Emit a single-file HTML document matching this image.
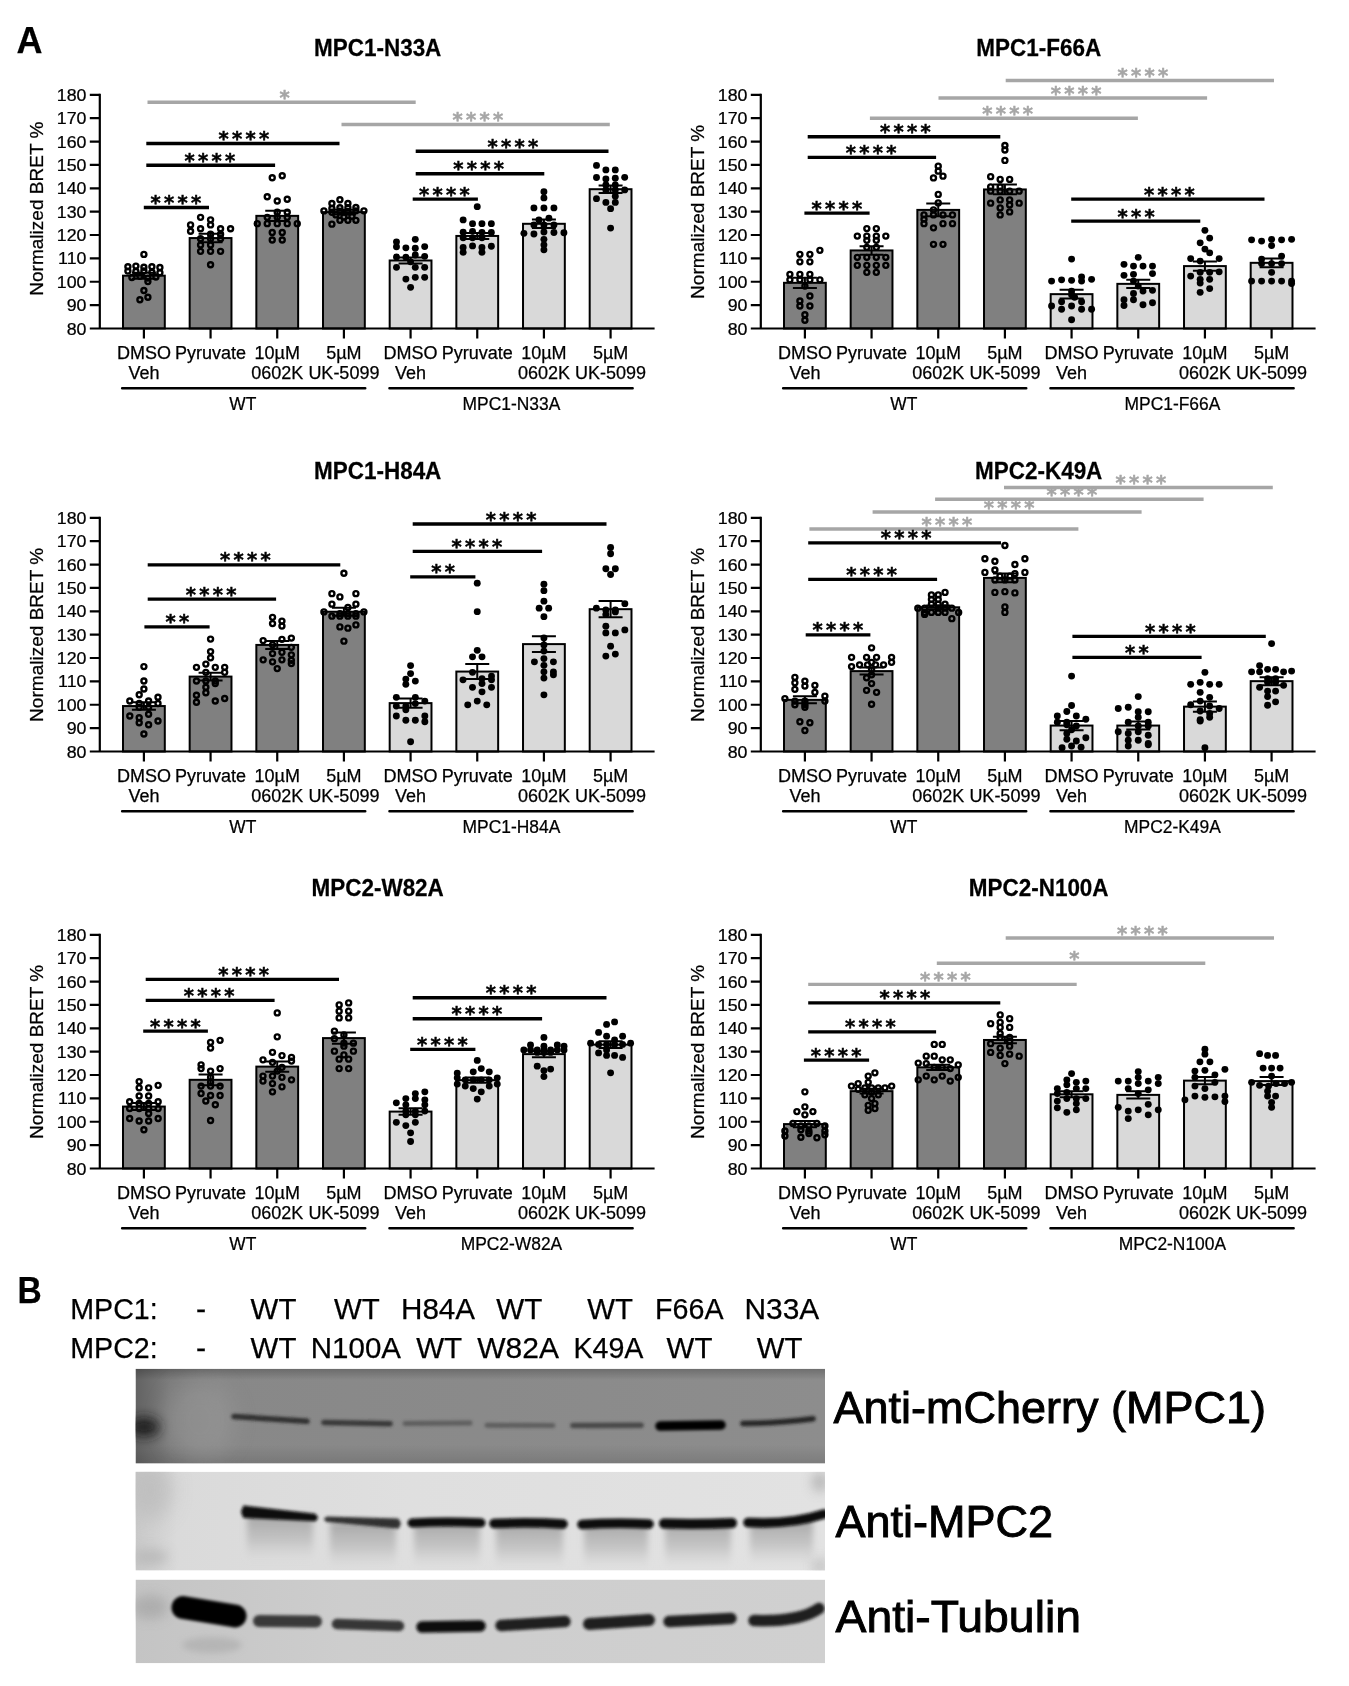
<!DOCTYPE html>
<html lang="en"><head><meta charset="utf-8"><title>Figure</title>
<style>
html,body{margin:0;padding:0;background:#fff}
svg{display:block;filter:grayscale(1)}
text{font-family:"Liberation Sans", sans-serif;fill:#000;stroke:#000;stroke-width:0.25px}
text.st{font-family:"DejaVu Sans",sans-serif;font-weight:bold;font-size:19.5px;text-anchor:middle;stroke:#000;stroke-width:0.5px}
text.st.g{stroke:#a6a6a6;fill:#a6a6a6}
</style></head><body>
<svg width="1349" height="1686" viewBox="0 0 1349 1686">
<rect width="1349" height="1686" fill="#fff"/>
<g transform="translate(0,0)">
<text transform="translate(377.7,55.55) scale(0.958,1)" font-size="23.45" font-weight="bold" text-anchor="middle">MPC1-N33A</text>
<rect x="123" y="275.68" width="41.8" height="52.82" fill="#808080" stroke="#000" stroke-width="2"/>
<rect x="189.67" y="238.06" width="41.8" height="90.44" fill="#808080" stroke="#000" stroke-width="2"/>
<rect x="256.34" y="215.86" width="41.8" height="112.64" fill="#808080" stroke="#000" stroke-width="2"/>
<rect x="323.01" y="212.12" width="41.8" height="116.38" fill="#808080" stroke="#000" stroke-width="2"/>
<rect x="389.68" y="260.49" width="41.8" height="68.01" fill="#d9d9d9" stroke="#000" stroke-width="2"/>
<rect x="456.35" y="235.95" width="41.8" height="92.55" fill="#d9d9d9" stroke="#000" stroke-width="2"/>
<rect x="523.02" y="223.8" width="41.8" height="104.7" fill="#d9d9d9" stroke="#000" stroke-width="2"/>
<rect x="589.69" y="189.21" width="41.8" height="139.29" fill="#d9d9d9" stroke="#000" stroke-width="2"/>
<path d="M99.8 93.8V328.5M89.8 328.5H654.6" stroke="#000" stroke-width="2.2" fill="none"/>
<path d="M89.8 305.13H99.8M89.8 281.76H99.8M89.8 258.39H99.8M89.8 235.02H99.8M89.8 211.65H99.8M89.8 188.28H99.8M89.8 164.91H99.8M89.8 141.54H99.8M89.8 118.17H99.8M89.8 94.8H99.8M143.9 328.5V338.5M210.57 328.5V338.5M277.24 328.5V338.5M343.91 328.5V338.5M410.58 328.5V338.5M477.25 328.5V338.5M543.92 328.5V338.5M610.59 328.5V338.5" stroke="#000" stroke-width="2.2" fill="none"/>
<text transform="translate(86.5,334.6) scale(1.035,1)" font-size="17.2" text-anchor="end">80</text>
<text transform="translate(86.5,311.23) scale(1.035,1)" font-size="17.2" text-anchor="end">90</text>
<text transform="translate(86.5,287.86) scale(1.035,1)" font-size="17.2" text-anchor="end">100</text>
<text transform="translate(86.5,264.49) scale(1.035,1)" font-size="17.2" text-anchor="end">110</text>
<text transform="translate(86.5,241.12) scale(1.035,1)" font-size="17.2" text-anchor="end">120</text>
<text transform="translate(86.5,217.75) scale(1.035,1)" font-size="17.2" text-anchor="end">130</text>
<text transform="translate(86.5,194.38) scale(1.035,1)" font-size="17.2" text-anchor="end">140</text>
<text transform="translate(86.5,171.01) scale(1.035,1)" font-size="17.2" text-anchor="end">150</text>
<text transform="translate(86.5,147.64) scale(1.035,1)" font-size="17.2" text-anchor="end">160</text>
<text transform="translate(86.5,124.27) scale(1.035,1)" font-size="17.2" text-anchor="end">170</text>
<text transform="translate(86.5,100.9) scale(1.035,1)" font-size="17.2" text-anchor="end">180</text>
<text transform="translate(43.1,208.7) rotate(-90)" font-size="19.05" text-anchor="middle">Normalized BRET %</text>
<text x="143.9" y="358.5" font-size="18.0" text-anchor="middle">DMSO</text>
<text x="143.9" y="378.6" font-size="18.0" text-anchor="middle">Veh</text>
<text x="210.57" y="358.5" font-size="18.0" text-anchor="middle">Pyruvate</text>
<text x="277.24" y="358.5" font-size="18.0" text-anchor="middle">10µM</text>
<text x="277.24" y="378.6" font-size="18.0" text-anchor="middle">0602K</text>
<text x="343.91" y="358.5" font-size="18.0" text-anchor="middle">5µM</text>
<text x="343.91" y="378.6" font-size="18.0" text-anchor="middle">UK-5099</text>
<text x="410.58" y="358.5" font-size="18.0" text-anchor="middle">DMSO</text>
<text x="410.58" y="378.6" font-size="18.0" text-anchor="middle">Veh</text>
<text x="477.25" y="358.5" font-size="18.0" text-anchor="middle">Pyruvate</text>
<text x="543.92" y="358.5" font-size="18.0" text-anchor="middle">10µM</text>
<text x="543.92" y="378.6" font-size="18.0" text-anchor="middle">0602K</text>
<text x="610.59" y="358.5" font-size="18.0" text-anchor="middle">5µM</text>
<text x="610.59" y="378.6" font-size="18.0" text-anchor="middle">UK-5099</text>
<path d="M122.2 388.3H365.2M389.5 388.3H632.6" stroke="#000" stroke-width="2.6" stroke-linecap="round" fill="none"/>
<text transform="translate(242.8,409.5) scale(0.965,1)" font-size="18.05" text-anchor="middle">WT</text>
<text transform="translate(511.4,409.5) scale(0.965,1)" font-size="18.05" text-anchor="middle">MPC1-N33A</text>
<path d="M143.9 272.65V278.72M131.9 272.65H155.9M131.9 278.72H155.9" stroke="#000" stroke-width="2" fill="none"/>
<path d="M210.57 233.85V242.26M198.57 233.85H222.57M198.57 242.26H222.57" stroke="#000" stroke-width="2" fill="none"/>
<path d="M277.24 210.72V221M265.24 210.72H289.24M265.24 221H289.24" stroke="#000" stroke-width="2" fill="none"/>
<path d="M343.91 209.78V214.45M331.91 209.78H355.91M331.91 214.45H355.91" stroke="#000" stroke-width="2" fill="none"/>
<path d="M410.58 257.46V263.53M398.58 257.46H422.58M398.58 263.53H422.58" stroke="#000" stroke-width="2" fill="none"/>
<path d="M477.25 232.92V238.99M465.25 232.92H489.25M465.25 238.99H489.25" stroke="#000" stroke-width="2" fill="none"/>
<path d="M543.92 219.6V228.01M531.92 219.6H555.92M531.92 228.01H555.92" stroke="#000" stroke-width="2" fill="none"/>
<path d="M610.59 185.48V192.95M598.59 185.48H622.59M598.59 192.95H622.59" stroke="#000" stroke-width="2" fill="none"/>
<g fill="none" stroke="#000" stroke-width="2.4"><circle cx="143.9" cy="254.4" r="2.5"/><circle cx="127.9" cy="266.79" r="2.5"/><circle cx="135.9" cy="266.09" r="2.5"/><circle cx="143.9" cy="267.24" r="2.5"/><circle cx="151.9" cy="266.82" r="2.5"/><circle cx="159.9" cy="267.52" r="2.5"/><circle cx="127.9" cy="271.11" r="2.5"/><circle cx="135.9" cy="271.5" r="2.5"/><circle cx="143.9" cy="271.06" r="2.5"/><circle cx="151.9" cy="272.31" r="2.5"/><circle cx="159.9" cy="272.82" r="2.5"/><circle cx="131.9" cy="277.5" r="2.5"/><circle cx="139.9" cy="276.37" r="2.5"/><circle cx="147.9" cy="278.1" r="2.5"/><circle cx="155.9" cy="277.05" r="2.5"/><circle cx="147.9" cy="281.61" r="2.5"/><circle cx="143.9" cy="290.43" r="2.5"/><circle cx="147.9" cy="297.24" r="2.5"/><circle cx="139.9" cy="299.76" r="2.5"/></g>
<g fill="none" stroke="#000" stroke-width="2.4"><circle cx="200.57" cy="217.35" r="2.5"/><circle cx="210.57" cy="219.87" r="2.5"/><circle cx="190.57" cy="224.91" r="2.5"/><circle cx="210.57" cy="224.91" r="2.5"/><circle cx="200.57" cy="228.69" r="2.5"/><circle cx="220.57" cy="228.69" r="2.5"/><circle cx="230.57" cy="228.69" r="2.5"/><circle cx="190.57" cy="231.21" r="2.5"/><circle cx="210.57" cy="234.23" r="2.5"/><circle cx="220.57" cy="234.23" r="2.5"/><circle cx="200.57" cy="238.77" r="2.5"/><circle cx="210.57" cy="238.77" r="2.5"/><circle cx="220.57" cy="238.77" r="2.5"/><circle cx="200.57" cy="245.07" r="2.5"/><circle cx="210.57" cy="245.07" r="2.5"/><circle cx="200.57" cy="251.37" r="2.5"/><circle cx="210.57" cy="251.37" r="2.5"/><circle cx="220.57" cy="251.37" r="2.5"/><circle cx="210.57" cy="264.73" r="2.5"/></g>
<g fill="none" stroke="#000" stroke-width="2.4"><circle cx="282.24" cy="175.77" r="2.5"/><circle cx="272.24" cy="177.78" r="2.5"/><circle cx="267.24" cy="196.68" r="2.5"/><circle cx="287.24" cy="199.2" r="2.5"/><circle cx="277.24" cy="200.97" r="2.5"/><circle cx="277.24" cy="212.31" r="2.5"/><circle cx="287.24" cy="212.31" r="2.5"/><circle cx="267.24" cy="217.35" r="2.5"/><circle cx="277.24" cy="217.35" r="2.5"/><circle cx="287.24" cy="217.35" r="2.5"/><circle cx="257.24" cy="223.65" r="2.5"/><circle cx="267.24" cy="223.65" r="2.5"/><circle cx="277.24" cy="223.65" r="2.5"/><circle cx="287.24" cy="223.65" r="2.5"/><circle cx="297.24" cy="223.65" r="2.5"/><circle cx="272.24" cy="232.47" r="2.5"/><circle cx="282.24" cy="232.47" r="2.5"/><circle cx="272.24" cy="240.03" r="2.5"/><circle cx="282.24" cy="240.03" r="2.5"/></g>
<g fill="none" stroke="#000" stroke-width="2.4"><circle cx="339.91" cy="199.71" r="2.5"/><circle cx="331.91" cy="203.49" r="2.5"/><circle cx="347.91" cy="203.49" r="2.5"/><circle cx="331.91" cy="208.57" r="2.5"/><circle cx="339.91" cy="207.74" r="2.5"/><circle cx="347.91" cy="207.76" r="2.5"/><circle cx="355.91" cy="207.53" r="2.5"/><circle cx="323.91" cy="210.9" r="2.5"/><circle cx="331.91" cy="212.19" r="2.5"/><circle cx="339.91" cy="211.32" r="2.5"/><circle cx="347.91" cy="211.55" r="2.5"/><circle cx="355.91" cy="210.87" r="2.5"/><circle cx="363.91" cy="210.86" r="2.5"/><circle cx="335.91" cy="214.9" r="2.5"/><circle cx="343.91" cy="216.97" r="2.5"/><circle cx="351.91" cy="216.27" r="2.5"/><circle cx="339.91" cy="220.37" r="2.5"/><circle cx="347.91" cy="220.37" r="2.5"/><circle cx="355.91" cy="220.37" r="2.5"/><circle cx="331.91" cy="224.15" r="2.5"/></g>
<g fill="#000"><circle cx="415.28" cy="239.37" r="3.45"/><circle cx="396.48" cy="241.86" r="3.45"/><circle cx="396.48" cy="246.77" r="3.45"/><circle cx="405.88" cy="247.83" r="3.45"/><circle cx="415.28" cy="248.2" r="3.45"/><circle cx="424.68" cy="246.61" r="3.45"/><circle cx="396.48" cy="256.97" r="3.45"/><circle cx="405.88" cy="257.16" r="3.45"/><circle cx="415.28" cy="254.96" r="3.45"/><circle cx="424.68" cy="256.35" r="3.45"/><circle cx="410.58" cy="261.85" r="3.45"/><circle cx="396.48" cy="267.34" r="3.45"/><circle cx="415.28" cy="267.34" r="3.45"/><circle cx="424.68" cy="267.34" r="3.45"/><circle cx="415.28" cy="277.34" r="3.45"/><circle cx="424.68" cy="277.34" r="3.45"/><circle cx="405.88" cy="279.09" r="3.45"/><circle cx="410.58" cy="287.33" r="3.45"/></g>
<g fill="#000"><circle cx="477.25" cy="206.64" r="3.45"/><circle cx="463.15" cy="219.88" r="3.45"/><circle cx="472.55" cy="223.63" r="3.45"/><circle cx="481.95" cy="223.63" r="3.45"/><circle cx="491.35" cy="223.63" r="3.45"/><circle cx="463.15" cy="232.27" r="3.45"/><circle cx="472.55" cy="231.36" r="3.45"/><circle cx="481.95" cy="232.35" r="3.45"/><circle cx="491.35" cy="232.45" r="3.45"/><circle cx="463.15" cy="237.87" r="3.45"/><circle cx="472.55" cy="237.87" r="3.45"/><circle cx="481.95" cy="237.87" r="3.45"/><circle cx="463.15" cy="247.56" r="3.45"/><circle cx="472.55" cy="245.89" r="3.45"/><circle cx="481.95" cy="247.52" r="3.45"/><circle cx="491.35" cy="246.19" r="3.45"/><circle cx="463.15" cy="252.36" r="3.45"/><circle cx="481.95" cy="252.36" r="3.45"/></g>
<g fill="#000"><circle cx="543.92" cy="191.65" r="3.45"/><circle cx="543.92" cy="197.9" r="3.45"/><circle cx="533.92" cy="207.89" r="3.45"/><circle cx="543.92" cy="207.89" r="3.45"/><circle cx="553.92" cy="207.89" r="3.45"/><circle cx="548.92" cy="218.13" r="3.45"/><circle cx="538.92" cy="219.88" r="3.45"/><circle cx="533.92" cy="224.88" r="3.45"/><circle cx="543.92" cy="224.88" r="3.45"/><circle cx="553.92" cy="224.88" r="3.45"/><circle cx="523.92" cy="233.37" r="3.45"/><circle cx="533.92" cy="233.99" r="3.45"/><circle cx="543.92" cy="232.03" r="3.45"/><circle cx="553.92" cy="232.46" r="3.45"/><circle cx="563.92" cy="232.73" r="3.45"/><circle cx="543.92" cy="239.37" r="3.45"/><circle cx="543.92" cy="244.86" r="3.45"/><circle cx="543.92" cy="249.86" r="3.45"/></g>
<g fill="#000"><circle cx="596.49" cy="165.42" r="3.45"/><circle cx="605.89" cy="169.92" r="3.45"/><circle cx="615.29" cy="169.92" r="3.45"/><circle cx="596.49" cy="177.49" r="3.45"/><circle cx="605.89" cy="178.89" r="3.45"/><circle cx="615.29" cy="178.29" r="3.45"/><circle cx="624.69" cy="177.34" r="3.45"/><circle cx="605.89" cy="184.91" r="3.45"/><circle cx="615.29" cy="184.91" r="3.45"/><circle cx="605.89" cy="189.9" r="3.45"/><circle cx="615.29" cy="189.9" r="3.45"/><circle cx="624.69" cy="189.9" r="3.45"/><circle cx="596.49" cy="198.65" r="3.45"/><circle cx="615.29" cy="196.15" r="3.45"/><circle cx="605.89" cy="202.39" r="3.45"/><circle cx="615.29" cy="202.39" r="3.45"/><circle cx="610.59" cy="208.64" r="3.45"/><circle cx="610.59" cy="228.12" r="3.45"/></g>
<path d="M147.5 102.2H415.7" stroke="#a6a6a6" stroke-width="3.4" fill="none"/>
<text x="284.6" y="103.7" class="st g" fill="#a6a6a6">*</text>
<path d="M146.3 143.5H339.5" stroke="#000" stroke-width="3.4" fill="none"/>
<text x="223.55 237.05 250.55 264.05" y="145" class="st">****</text>
<path d="M146.3 165.2H275.1" stroke="#000" stroke-width="3.4" fill="none"/>
<text x="189.55 203.05 216.55 230.05" y="166.7" class="st">****</text>
<path d="M143.8 207.5H209" stroke="#000" stroke-width="3.4" fill="none"/>
<text x="155.55 169.05 182.55 196.05" y="209" class="st">****</text>
<path d="M341.5 124.5H609.8" stroke="#a6a6a6" stroke-width="3.4" fill="none"/>
<text x="457.65 471.15 484.65 498.15" y="126" class="st g" fill="#a6a6a6">****</text>
<path d="M415.7 151.2H608.5" stroke="#000" stroke-width="3.4" fill="none"/>
<text x="492.65 506.15 519.65 533.15" y="152.7" class="st">****</text>
<path d="M415.7 173.7H544.3" stroke="#000" stroke-width="3.4" fill="none"/>
<text x="458.35 471.85 485.35 498.85" y="175.2" class="st">****</text>
<path d="M412.7 199.1H477.9" stroke="#000" stroke-width="3.4" fill="none"/>
<text x="424.15 437.65 451.15 464.65" y="200.6" class="st">****</text>
</g>
<g transform="translate(661,0)">
<text transform="translate(377.7,55.55) scale(0.958,1)" font-size="23.45" font-weight="bold" text-anchor="middle">MPC1-F66A</text>
<rect x="123" y="282.81" width="41.8" height="45.69" fill="#808080" stroke="#000" stroke-width="2"/>
<rect x="189.67" y="250.44" width="41.8" height="78.06" fill="#808080" stroke="#000" stroke-width="2"/>
<rect x="256.34" y="209.9" width="41.8" height="118.6" fill="#808080" stroke="#000" stroke-width="2"/>
<rect x="323.01" y="189.45" width="41.8" height="139.05" fill="#808080" stroke="#000" stroke-width="2"/>
<rect x="389.68" y="294.15" width="41.8" height="34.35" fill="#d9d9d9" stroke="#000" stroke-width="2"/>
<rect x="456.35" y="283.86" width="41.8" height="44.64" fill="#d9d9d9" stroke="#000" stroke-width="2"/>
<rect x="523.02" y="266.1" width="41.8" height="62.4" fill="#d9d9d9" stroke="#000" stroke-width="2"/>
<rect x="589.69" y="262.83" width="41.8" height="65.67" fill="#d9d9d9" stroke="#000" stroke-width="2"/>
<path d="M99.8 93.8V328.5M89.8 328.5H654.6" stroke="#000" stroke-width="2.2" fill="none"/>
<path d="M89.8 305.13H99.8M89.8 281.76H99.8M89.8 258.39H99.8M89.8 235.02H99.8M89.8 211.65H99.8M89.8 188.28H99.8M89.8 164.91H99.8M89.8 141.54H99.8M89.8 118.17H99.8M89.8 94.8H99.8M143.9 328.5V338.5M210.57 328.5V338.5M277.24 328.5V338.5M343.91 328.5V338.5M410.58 328.5V338.5M477.25 328.5V338.5M543.92 328.5V338.5M610.59 328.5V338.5" stroke="#000" stroke-width="2.2" fill="none"/>
<text transform="translate(86.5,334.6) scale(1.035,1)" font-size="17.2" text-anchor="end">80</text>
<text transform="translate(86.5,311.23) scale(1.035,1)" font-size="17.2" text-anchor="end">90</text>
<text transform="translate(86.5,287.86) scale(1.035,1)" font-size="17.2" text-anchor="end">100</text>
<text transform="translate(86.5,264.49) scale(1.035,1)" font-size="17.2" text-anchor="end">110</text>
<text transform="translate(86.5,241.12) scale(1.035,1)" font-size="17.2" text-anchor="end">120</text>
<text transform="translate(86.5,217.75) scale(1.035,1)" font-size="17.2" text-anchor="end">130</text>
<text transform="translate(86.5,194.38) scale(1.035,1)" font-size="17.2" text-anchor="end">140</text>
<text transform="translate(86.5,171.01) scale(1.035,1)" font-size="17.2" text-anchor="end">150</text>
<text transform="translate(86.5,147.64) scale(1.035,1)" font-size="17.2" text-anchor="end">160</text>
<text transform="translate(86.5,124.27) scale(1.035,1)" font-size="17.2" text-anchor="end">170</text>
<text transform="translate(86.5,100.9) scale(1.035,1)" font-size="17.2" text-anchor="end">180</text>
<text transform="translate(43.1,211.8) rotate(-90)" font-size="19.05" text-anchor="middle">Normalized BRET %</text>
<text x="143.9" y="358.5" font-size="18.0" text-anchor="middle">DMSO</text>
<text x="143.9" y="378.6" font-size="18.0" text-anchor="middle">Veh</text>
<text x="210.57" y="358.5" font-size="18.0" text-anchor="middle">Pyruvate</text>
<text x="277.24" y="358.5" font-size="18.0" text-anchor="middle">10µM</text>
<text x="277.24" y="378.6" font-size="18.0" text-anchor="middle">0602K</text>
<text x="343.91" y="358.5" font-size="18.0" text-anchor="middle">5µM</text>
<text x="343.91" y="378.6" font-size="18.0" text-anchor="middle">UK-5099</text>
<text x="410.58" y="358.5" font-size="18.0" text-anchor="middle">DMSO</text>
<text x="410.58" y="378.6" font-size="18.0" text-anchor="middle">Veh</text>
<text x="477.25" y="358.5" font-size="18.0" text-anchor="middle">Pyruvate</text>
<text x="543.92" y="358.5" font-size="18.0" text-anchor="middle">10µM</text>
<text x="543.92" y="378.6" font-size="18.0" text-anchor="middle">0602K</text>
<text x="610.59" y="358.5" font-size="18.0" text-anchor="middle">5µM</text>
<text x="610.59" y="378.6" font-size="18.0" text-anchor="middle">UK-5099</text>
<path d="M122.2 388.3H365.2M389.5 388.3H632.6" stroke="#000" stroke-width="2.6" stroke-linecap="round" fill="none"/>
<text transform="translate(242.8,409.5) scale(0.965,1)" font-size="18.05" text-anchor="middle">WT</text>
<text transform="translate(511.4,409.5) scale(0.965,1)" font-size="18.05" text-anchor="middle">MPC1-F66A</text>
<path d="M143.9 277.67V287.95M131.9 277.67H155.9M131.9 287.95H155.9" stroke="#000" stroke-width="2" fill="none"/>
<path d="M210.57 246.24V254.65M198.57 246.24H222.57M198.57 254.65H222.57" stroke="#000" stroke-width="2" fill="none"/>
<path d="M277.24 203.59V216.21M265.24 203.59H289.24M265.24 216.21H289.24" stroke="#000" stroke-width="2" fill="none"/>
<path d="M343.91 184.54V194.36M331.91 184.54H355.91M331.91 194.36H355.91" stroke="#000" stroke-width="2" fill="none"/>
<path d="M410.58 289.71V298.59M398.58 289.71H422.58M398.58 298.59H422.58" stroke="#000" stroke-width="2" fill="none"/>
<path d="M477.25 279.66V288.07M465.25 279.66H489.25M465.25 288.07H489.25" stroke="#000" stroke-width="2" fill="none"/>
<path d="M543.92 261.43V270.78M531.92 261.43H555.92M531.92 270.78H555.92" stroke="#000" stroke-width="2" fill="none"/>
<path d="M610.59 258.39V267.27M598.59 258.39H622.59M598.59 267.27H622.59" stroke="#000" stroke-width="2" fill="none"/>
<g fill="none" stroke="#000" stroke-width="2.4"><circle cx="158.9" cy="250.36" r="2.5"/><circle cx="138.9" cy="254.35" r="2.5"/><circle cx="148.9" cy="254.35" r="2.5"/><circle cx="138.9" cy="261.85" r="2.5"/><circle cx="148.9" cy="261.85" r="2.5"/><circle cx="128.9" cy="274.34" r="2.5"/><circle cx="138.9" cy="274.34" r="2.5"/><circle cx="148.9" cy="274.34" r="2.5"/><circle cx="128.9" cy="279.84" r="2.5"/><circle cx="138.9" cy="279.84" r="2.5"/><circle cx="148.9" cy="279.84" r="2.5"/><circle cx="158.9" cy="279.84" r="2.5"/><circle cx="143.9" cy="286.08" r="2.5"/><circle cx="148.9" cy="296.07" r="2.5"/><circle cx="138.9" cy="301.07" r="2.5"/><circle cx="138.9" cy="306.07" r="2.5"/><circle cx="148.9" cy="306.07" r="2.5"/><circle cx="143.9" cy="314.81" r="2.5"/><circle cx="143.9" cy="320.3" r="2.5"/></g>
<g fill="none" stroke="#000" stroke-width="2.4"><circle cx="205.82" cy="228.62" r="2.5"/><circle cx="215.32" cy="228.62" r="2.5"/><circle cx="196.32" cy="236.12" r="2.5"/><circle cx="205.82" cy="236.12" r="2.5"/><circle cx="215.32" cy="236.12" r="2.5"/><circle cx="224.82" cy="236.12" r="2.5"/><circle cx="205.82" cy="240.36" r="2.5"/><circle cx="215.32" cy="240.36" r="2.5"/><circle cx="205.82" cy="247.36" r="2.5"/><circle cx="215.32" cy="247.36" r="2.5"/><circle cx="196.32" cy="257.35" r="2.5"/><circle cx="205.82" cy="257.35" r="2.5"/><circle cx="215.32" cy="257.35" r="2.5"/><circle cx="224.82" cy="257.35" r="2.5"/><circle cx="196.32" cy="265.35" r="2.5"/><circle cx="205.82" cy="265.35" r="2.5"/><circle cx="215.32" cy="265.35" r="2.5"/><circle cx="224.82" cy="265.35" r="2.5"/><circle cx="205.82" cy="272.34" r="2.5"/><circle cx="215.32" cy="272.34" r="2.5"/></g>
<g fill="none" stroke="#000" stroke-width="2.4"><circle cx="277.24" cy="166.17" r="2.5"/><circle cx="277.24" cy="171.17" r="2.5"/><circle cx="281.99" cy="176.16" r="2.5"/><circle cx="272.49" cy="177.91" r="2.5"/><circle cx="277.24" cy="194.4" r="2.5"/><circle cx="277.24" cy="202.89" r="2.5"/><circle cx="272.49" cy="209.89" r="2.5"/><circle cx="262.99" cy="214.88" r="2.5"/><circle cx="272.49" cy="214.88" r="2.5"/><circle cx="281.99" cy="214.88" r="2.5"/><circle cx="291.49" cy="214.88" r="2.5"/><circle cx="262.99" cy="219.13" r="2.5"/><circle cx="262.99" cy="223.63" r="2.5"/><circle cx="281.99" cy="223.63" r="2.5"/><circle cx="291.49" cy="223.63" r="2.5"/><circle cx="272.49" cy="227.87" r="2.5"/><circle cx="272.49" cy="244.36" r="2.5"/><circle cx="281.99" cy="244.36" r="2.5"/></g>
<g fill="none" stroke="#000" stroke-width="2.4"><circle cx="343.91" cy="145.44" r="2.5"/><circle cx="343.91" cy="149.93" r="2.5"/><circle cx="343.91" cy="160.42" r="2.5"/><circle cx="329.66" cy="176.66" r="2.5"/><circle cx="339.16" cy="179.41" r="2.5"/><circle cx="348.66" cy="179.41" r="2.5"/><circle cx="329.66" cy="186.9" r="2.5"/><circle cx="339.16" cy="186.9" r="2.5"/><circle cx="329.66" cy="191.15" r="2.5"/><circle cx="339.16" cy="191.15" r="2.5"/><circle cx="348.66" cy="191.15" r="2.5"/><circle cx="358.16" cy="191.15" r="2.5"/><circle cx="339.16" cy="199.9" r="2.5"/><circle cx="348.66" cy="199.9" r="2.5"/><circle cx="329.66" cy="203.14" r="2.5"/><circle cx="358.16" cy="203.14" r="2.5"/><circle cx="339.16" cy="207.89" r="2.5"/><circle cx="348.66" cy="204.89" r="2.5"/><circle cx="348.66" cy="211.89" r="2.5"/><circle cx="339.16" cy="214.88" r="2.5"/></g>
<g fill="#000"><circle cx="410.58" cy="259.1" r="3.45"/><circle cx="420.58" cy="276.84" r="3.45"/><circle cx="390.58" cy="281.08" r="3.45"/><circle cx="400.58" cy="279.84" r="3.45"/><circle cx="410.58" cy="280.33" r="3.45"/><circle cx="420.58" cy="281.08" r="3.45"/><circle cx="430.58" cy="279.34" r="3.45"/><circle cx="410.58" cy="291.08" r="3.45"/><circle cx="410.58" cy="294.82" r="3.45"/><circle cx="413.58" cy="297.32" r="3.45"/><circle cx="400.58" cy="301.82" r="3.45"/><circle cx="420.58" cy="301.82" r="3.45"/><circle cx="390.58" cy="306.07" r="3.45"/><circle cx="410.58" cy="306.07" r="3.45"/><circle cx="400.58" cy="309.31" r="3.45"/><circle cx="420.58" cy="309.31" r="3.45"/><circle cx="430.58" cy="309.31" r="3.45"/><circle cx="410.58" cy="319.81" r="3.45"/></g>
<g fill="#000"><circle cx="477.25" cy="257.35" r="3.45"/><circle cx="463" cy="264.35" r="3.45"/><circle cx="472.5" cy="266.1" r="3.45"/><circle cx="482" cy="266.1" r="3.45"/><circle cx="491.5" cy="266.1" r="3.45"/><circle cx="463" cy="275.34" r="3.45"/><circle cx="472.5" cy="274.34" r="3.45"/><circle cx="491.5" cy="273.59" r="3.45"/><circle cx="472.5" cy="281.08" r="3.45"/><circle cx="477.25" cy="286.08" r="3.45"/><circle cx="472.5" cy="293.57" r="3.45"/><circle cx="482" cy="291.08" r="3.45"/><circle cx="491.5" cy="290.33" r="3.45"/><circle cx="463" cy="299.82" r="3.45"/><circle cx="472.5" cy="299.82" r="3.45"/><circle cx="482" cy="304.82" r="3.45"/><circle cx="491.5" cy="302.82" r="3.45"/><circle cx="463" cy="305.57" r="3.45"/></g>
<g fill="#000"><circle cx="543.92" cy="230.37" r="3.45"/><circle cx="548.67" cy="238.12" r="3.45"/><circle cx="539.17" cy="242.86" r="3.45"/><circle cx="543.92" cy="249.11" r="3.45"/><circle cx="548.67" cy="252.86" r="3.45"/><circle cx="529.67" cy="258.6" r="3.45"/><circle cx="558.17" cy="258.6" r="3.45"/><circle cx="539.17" cy="261.1" r="3.45"/><circle cx="539.17" cy="272.34" r="3.45"/><circle cx="548.67" cy="272.34" r="3.45"/><circle cx="558.17" cy="271.84" r="3.45"/><circle cx="529.67" cy="276.09" r="3.45"/><circle cx="539.17" cy="279.34" r="3.45"/><circle cx="548.67" cy="279.34" r="3.45"/><circle cx="539.17" cy="283.08" r="3.45"/><circle cx="548.67" cy="288.58" r="3.45"/><circle cx="539.17" cy="292.33" r="3.45"/></g>
<g fill="#000"><circle cx="590.59" cy="239.87" r="3.45"/><circle cx="600.59" cy="241.11" r="3.45"/><circle cx="610.59" cy="239.37" r="3.45"/><circle cx="620.59" cy="239.87" r="3.45"/><circle cx="630.59" cy="239.37" r="3.45"/><circle cx="610.59" cy="245.61" r="3.45"/><circle cx="620.59" cy="256.1" r="3.45"/><circle cx="600.59" cy="259.1" r="3.45"/><circle cx="600.59" cy="263.6" r="3.45"/><circle cx="610.59" cy="263.6" r="3.45"/><circle cx="620.59" cy="263.6" r="3.45"/><circle cx="610.59" cy="272.34" r="3.45"/><circle cx="590.59" cy="281.08" r="3.45"/><circle cx="600.59" cy="281.08" r="3.45"/><circle cx="610.59" cy="281.08" r="3.45"/><circle cx="620.59" cy="281.08" r="3.45"/><circle cx="630.59" cy="281.08" r="3.45"/><circle cx="630.59" cy="283.58" r="3.45"/></g>
<path d="M344.7 80.5H613" stroke="#a6a6a6" stroke-width="3.4" fill="none"/>
<text x="461.65 475.15 488.65 502.15" y="82" class="st g" fill="#a6a6a6">****</text>
<path d="M277.5 98H546.1" stroke="#a6a6a6" stroke-width="3.4" fill="none"/>
<text x="394.95 408.45 421.95 435.45" y="99.5" class="st g" fill="#a6a6a6">****</text>
<path d="M208.9 118.2H476.9" stroke="#a6a6a6" stroke-width="3.4" fill="none"/>
<text x="326.25 339.75 353.25 366.75" y="119.7" class="st g" fill="#a6a6a6">****</text>
<path d="M146.7 136.7H339.3" stroke="#000" stroke-width="3.4" fill="none"/>
<text x="224.05 237.55 251.05 264.55" y="138.2" class="st">****</text>
<path d="M146.7 157.4H275.1" stroke="#000" stroke-width="3.4" fill="none"/>
<text x="189.85 203.35 216.85 230.35" y="158.9" class="st">****</text>
<path d="M143.4 213.1H208.6" stroke="#000" stroke-width="3.4" fill="none"/>
<text x="155.65 169.15 182.65 196.15" y="214.6" class="st">****</text>
<path d="M410.2 199.1H603.5" stroke="#000" stroke-width="3.4" fill="none"/>
<text x="488.05 501.55 515.05 528.55" y="200.6" class="st">****</text>
<path d="M410.2 221.1H539.3" stroke="#000" stroke-width="3.4" fill="none"/>
<text x="461.6 475.1 488.6" y="222.6" class="st">***</text>
</g>
<g transform="translate(0,423)">
<text transform="translate(377.7,55.55) scale(0.958,1)" font-size="23.45" font-weight="bold" text-anchor="middle">MPC1-H84A</text>
<rect x="123" y="283.05" width="41.8" height="45.45" fill="#808080" stroke="#000" stroke-width="2"/>
<rect x="189.67" y="253.6" width="41.8" height="74.9" fill="#808080" stroke="#000" stroke-width="2"/>
<rect x="256.34" y="221.93" width="41.8" height="106.57" fill="#808080" stroke="#000" stroke-width="2"/>
<rect x="323.01" y="188.75" width="41.8" height="139.75" fill="#808080" stroke="#000" stroke-width="2"/>
<rect x="389.68" y="280.12" width="41.8" height="48.38" fill="#d9d9d9" stroke="#000" stroke-width="2"/>
<rect x="456.35" y="248.57" width="41.8" height="79.93" fill="#d9d9d9" stroke="#000" stroke-width="2"/>
<rect x="523.02" y="221.11" width="41.8" height="107.39" fill="#d9d9d9" stroke="#000" stroke-width="2"/>
<rect x="589.69" y="186.18" width="41.8" height="142.32" fill="#d9d9d9" stroke="#000" stroke-width="2"/>
<path d="M99.8 93.8V328.5M89.8 328.5H654.6" stroke="#000" stroke-width="2.2" fill="none"/>
<path d="M89.8 305.13H99.8M89.8 281.76H99.8M89.8 258.39H99.8M89.8 235.02H99.8M89.8 211.65H99.8M89.8 188.28H99.8M89.8 164.91H99.8M89.8 141.54H99.8M89.8 118.17H99.8M89.8 94.8H99.8M143.9 328.5V338.5M210.57 328.5V338.5M277.24 328.5V338.5M343.91 328.5V338.5M410.58 328.5V338.5M477.25 328.5V338.5M543.92 328.5V338.5M610.59 328.5V338.5" stroke="#000" stroke-width="2.2" fill="none"/>
<text transform="translate(86.5,334.6) scale(1.035,1)" font-size="17.2" text-anchor="end">80</text>
<text transform="translate(86.5,311.23) scale(1.035,1)" font-size="17.2" text-anchor="end">90</text>
<text transform="translate(86.5,287.86) scale(1.035,1)" font-size="17.2" text-anchor="end">100</text>
<text transform="translate(86.5,264.49) scale(1.035,1)" font-size="17.2" text-anchor="end">110</text>
<text transform="translate(86.5,241.12) scale(1.035,1)" font-size="17.2" text-anchor="end">120</text>
<text transform="translate(86.5,217.75) scale(1.035,1)" font-size="17.2" text-anchor="end">130</text>
<text transform="translate(86.5,194.38) scale(1.035,1)" font-size="17.2" text-anchor="end">140</text>
<text transform="translate(86.5,171.01) scale(1.035,1)" font-size="17.2" text-anchor="end">150</text>
<text transform="translate(86.5,147.64) scale(1.035,1)" font-size="17.2" text-anchor="end">160</text>
<text transform="translate(86.5,124.27) scale(1.035,1)" font-size="17.2" text-anchor="end">170</text>
<text transform="translate(86.5,100.9) scale(1.035,1)" font-size="17.2" text-anchor="end">180</text>
<text transform="translate(43.1,211.8) rotate(-90)" font-size="19.05" text-anchor="middle">Normalized BRET %</text>
<text x="143.9" y="358.5" font-size="18.0" text-anchor="middle">DMSO</text>
<text x="143.9" y="378.6" font-size="18.0" text-anchor="middle">Veh</text>
<text x="210.57" y="358.5" font-size="18.0" text-anchor="middle">Pyruvate</text>
<text x="277.24" y="358.5" font-size="18.0" text-anchor="middle">10µM</text>
<text x="277.24" y="378.6" font-size="18.0" text-anchor="middle">0602K</text>
<text x="343.91" y="358.5" font-size="18.0" text-anchor="middle">5µM</text>
<text x="343.91" y="378.6" font-size="18.0" text-anchor="middle">UK-5099</text>
<text x="410.58" y="358.5" font-size="18.0" text-anchor="middle">DMSO</text>
<text x="410.58" y="378.6" font-size="18.0" text-anchor="middle">Veh</text>
<text x="477.25" y="358.5" font-size="18.0" text-anchor="middle">Pyruvate</text>
<text x="543.92" y="358.5" font-size="18.0" text-anchor="middle">10µM</text>
<text x="543.92" y="378.6" font-size="18.0" text-anchor="middle">0602K</text>
<text x="610.59" y="358.5" font-size="18.0" text-anchor="middle">5µM</text>
<text x="610.59" y="378.6" font-size="18.0" text-anchor="middle">UK-5099</text>
<path d="M122.2 388.3H365.2M389.5 388.3H632.6" stroke="#000" stroke-width="2.6" stroke-linecap="round" fill="none"/>
<text transform="translate(242.8,409.5) scale(0.965,1)" font-size="18.05" text-anchor="middle">WT</text>
<text transform="translate(511.4,409.5) scale(0.965,1)" font-size="18.05" text-anchor="middle">MPC1-H84A</text>
<path d="M143.9 279.31V286.78M131.9 279.31H155.9M131.9 286.78H155.9" stroke="#000" stroke-width="2" fill="none"/>
<path d="M210.57 249.63V257.57M198.57 249.63H222.57M198.57 257.57H222.57" stroke="#000" stroke-width="2" fill="none"/>
<path d="M277.24 217.96V225.91M265.24 217.96H289.24M265.24 225.91H289.24" stroke="#000" stroke-width="2" fill="none"/>
<path d="M343.91 184.77V192.72M331.91 184.77H355.91M331.91 192.72H355.91" stroke="#000" stroke-width="2" fill="none"/>
<path d="M410.58 275.45V284.8M398.58 275.45H422.58M398.58 284.8H422.58" stroke="#000" stroke-width="2" fill="none"/>
<path d="M477.25 241.1V256.05M465.25 241.1H489.25M465.25 256.05H489.25" stroke="#000" stroke-width="2" fill="none"/>
<path d="M543.92 213.17V229.06M531.92 213.17H555.92M531.92 229.06H555.92" stroke="#000" stroke-width="2" fill="none"/>
<path d="M610.59 178V194.36M598.59 178H622.59M598.59 194.36H622.59" stroke="#000" stroke-width="2" fill="none"/>
<g fill="none" stroke="#000" stroke-width="2.4"><circle cx="143.9" cy="243.58" r="2.5"/><circle cx="143.9" cy="258.07" r="2.5"/><circle cx="143.9" cy="266.06" r="2.5"/><circle cx="139.2" cy="271.81" r="2.5"/><circle cx="158" cy="274.31" r="2.5"/><circle cx="129.8" cy="278.05" r="2.5"/><circle cx="148.6" cy="278.05" r="2.5"/><circle cx="139.2" cy="280.55" r="2.5"/><circle cx="158" cy="280.55" r="2.5"/><circle cx="139.2" cy="284.3" r="2.5"/><circle cx="148.6" cy="284.3" r="2.5"/><circle cx="148.6" cy="291.29" r="2.5"/><circle cx="129.8" cy="293.04" r="2.5"/><circle cx="139.2" cy="294.79" r="2.5"/><circle cx="158" cy="298.04" r="2.5"/><circle cx="139.2" cy="299.79" r="2.5"/><circle cx="148.6" cy="301.79" r="2.5"/><circle cx="143.9" cy="311.03" r="2.5"/></g>
<g fill="none" stroke="#000" stroke-width="2.4"><circle cx="210.57" cy="216.1" r="2.5"/><circle cx="210.57" cy="228.59" r="2.5"/><circle cx="210.57" cy="234.84" r="2.5"/><circle cx="205.87" cy="241.08" r="2.5"/><circle cx="196.47" cy="244.33" r="2.5"/><circle cx="215.27" cy="244.33" r="2.5"/><circle cx="224.67" cy="244.33" r="2.5"/><circle cx="205.87" cy="249.33" r="2.5"/><circle cx="224.67" cy="249.33" r="2.5"/><circle cx="196.47" cy="258.07" r="2.5"/><circle cx="205.87" cy="258.07" r="2.5"/><circle cx="215.27" cy="258.07" r="2.5"/><circle cx="215.27" cy="260.57" r="2.5"/><circle cx="205.87" cy="264.31" r="2.5"/><circle cx="205.87" cy="269.81" r="2.5"/><circle cx="196.47" cy="272.31" r="2.5"/><circle cx="224.67" cy="275.56" r="2.5"/><circle cx="215.27" cy="278.05" r="2.5"/><circle cx="196.47" cy="279.3" r="2.5"/></g>
<g fill="none" stroke="#000" stroke-width="2.4"><circle cx="272.54" cy="194.37" r="2.5"/><circle cx="281.94" cy="198.11" r="2.5"/><circle cx="272.54" cy="200.61" r="2.5"/><circle cx="281.94" cy="203.11" r="2.5"/><circle cx="291.34" cy="215.1" r="2.5"/><circle cx="263.14" cy="217.6" r="2.5"/><circle cx="281.94" cy="216.35" r="2.5"/><circle cx="272.54" cy="221.85" r="2.5"/><circle cx="291.34" cy="224.34" r="2.5"/><circle cx="272.54" cy="230.59" r="2.5"/><circle cx="281.94" cy="229.34" r="2.5"/><circle cx="291.34" cy="231.84" r="2.5"/><circle cx="263.14" cy="236.84" r="2.5"/><circle cx="281.94" cy="236.84" r="2.5"/><circle cx="272.54" cy="238.83" r="2.5"/><circle cx="291.34" cy="237.33" r="2.5"/><circle cx="291.34" cy="240.58" r="2.5"/><circle cx="277.24" cy="245.58" r="2.5"/></g>
<g fill="none" stroke="#000" stroke-width="2.4"><circle cx="343.91" cy="150.18" r="2.5"/><circle cx="331.91" cy="170.66" r="2.5"/><circle cx="355.91" cy="170.66" r="2.5"/><circle cx="339.91" cy="173.91" r="2.5"/><circle cx="331.91" cy="181.16" r="2.5"/><circle cx="355.91" cy="181.16" r="2.5"/><circle cx="347.91" cy="184.4" r="2.5"/><circle cx="323.91" cy="188.9" r="2.5"/><circle cx="363.91" cy="188.9" r="2.5"/><circle cx="339.91" cy="190.65" r="2.5"/><circle cx="347.91" cy="190.65" r="2.5"/><circle cx="355.91" cy="190.65" r="2.5"/><circle cx="331.91" cy="193.15" r="2.5"/><circle cx="339.91" cy="193.15" r="2.5"/><circle cx="347.91" cy="193.15" r="2.5"/><circle cx="355.91" cy="193.15" r="2.5"/><circle cx="355.91" cy="201.89" r="2.5"/><circle cx="339.91" cy="203.89" r="2.5"/><circle cx="347.91" cy="205.14" r="2.5"/><circle cx="343.91" cy="218.13" r="2.5"/></g>
<g fill="#000"><circle cx="410.58" cy="242.61" r="3.45"/><circle cx="410.58" cy="250.6" r="3.45"/><circle cx="405.83" cy="256.1" r="3.45"/><circle cx="415.33" cy="258.1" r="3.45"/><circle cx="405.83" cy="261.35" r="3.45"/><circle cx="396.33" cy="274.34" r="3.45"/><circle cx="415.33" cy="274.34" r="3.45"/><circle cx="424.83" cy="278.08" r="3.45"/><circle cx="415.33" cy="280.58" r="3.45"/><circle cx="396.33" cy="283.08" r="3.45"/><circle cx="405.83" cy="283.08" r="3.45"/><circle cx="405.83" cy="286.83" r="3.45"/><circle cx="396.33" cy="293.07" r="3.45"/><circle cx="424.83" cy="293.07" r="3.45"/><circle cx="405.83" cy="297.32" r="3.45"/><circle cx="415.33" cy="297.32" r="3.45"/><circle cx="424.83" cy="298.82" r="3.45"/><circle cx="410.58" cy="318.8" r="3.45"/></g>
<g fill="#000"><circle cx="477.25" cy="160.17" r="3.45"/><circle cx="477.25" cy="188.65" r="3.45"/><circle cx="477.25" cy="227.37" r="3.45"/><circle cx="472.5" cy="233.87" r="3.45"/><circle cx="482" cy="233.87" r="3.45"/><circle cx="472.5" cy="249.36" r="3.45"/><circle cx="491.5" cy="253.1" r="3.45"/><circle cx="482" cy="255.6" r="3.45"/><circle cx="463" cy="256.85" r="3.45"/><circle cx="491.5" cy="256.85" r="3.45"/><circle cx="482" cy="260.6" r="3.45"/><circle cx="472.5" cy="264.34" r="3.45"/><circle cx="491.5" cy="264.34" r="3.45"/><circle cx="482" cy="268.84" r="3.45"/><circle cx="477.25" cy="278.08" r="3.45"/><circle cx="467.75" cy="281.83" r="3.45"/><circle cx="486.75" cy="281.83" r="3.45"/></g>
<g fill="#000"><circle cx="543.92" cy="161.17" r="3.45"/><circle cx="543.92" cy="167.67" r="3.45"/><circle cx="543.92" cy="178.16" r="3.45"/><circle cx="539.17" cy="185.15" r="3.45"/><circle cx="548.67" cy="185.15" r="3.45"/><circle cx="543.92" cy="193.65" r="3.45"/><circle cx="543.92" cy="214.88" r="3.45"/><circle cx="543.92" cy="221.88" r="3.45"/><circle cx="543.92" cy="228.12" r="3.45"/><circle cx="543.92" cy="235.62" r="3.45"/><circle cx="534.42" cy="238.86" r="3.45"/><circle cx="553.42" cy="238.86" r="3.45"/><circle cx="543.92" cy="242.36" r="3.45"/><circle cx="543.92" cy="248.86" r="3.45"/><circle cx="553.42" cy="248.86" r="3.45"/><circle cx="553.42" cy="251.85" r="3.45"/><circle cx="543.92" cy="255.1" r="3.45"/><circle cx="543.92" cy="271.84" r="3.45"/></g>
<g fill="#000"><circle cx="610.59" cy="124.45" r="3.45"/><circle cx="610.59" cy="130.69" r="3.45"/><circle cx="605.84" cy="145.68" r="3.45"/><circle cx="615.34" cy="145.68" r="3.45"/><circle cx="610.59" cy="151.43" r="3.45"/><circle cx="624.84" cy="180.66" r="3.45"/><circle cx="596.34" cy="185.15" r="3.45"/><circle cx="605.84" cy="186.9" r="3.45"/><circle cx="615.34" cy="186.9" r="3.45"/><circle cx="605.84" cy="191.4" r="3.45"/><circle cx="615.34" cy="188.9" r="3.45"/><circle cx="605.84" cy="203.14" r="3.45"/><circle cx="624.84" cy="206.89" r="3.45"/><circle cx="605.84" cy="209.89" r="3.45"/><circle cx="615.34" cy="209.89" r="3.45"/><circle cx="610.59" cy="223.13" r="3.45"/><circle cx="615.34" cy="231.12" r="3.45"/><circle cx="605.84" cy="233.12" r="3.45"/></g>
<path d="M147.7 141.9H340.3" stroke="#000" stroke-width="3.4" fill="none"/>
<text x="225.05 238.55 252.05 265.55" y="143.4" class="st">****</text>
<path d="M147.7 176.1H276.1" stroke="#000" stroke-width="3.4" fill="none"/>
<text x="190.85 204.35 217.85 231.35" y="177.6" class="st">****</text>
<path d="M144.4 203.9H209.6" stroke="#000" stroke-width="3.4" fill="none"/>
<text x="170.65 184.15" y="205.4" class="st">**</text>
<path d="M412.7 101H606.5" stroke="#000" stroke-width="3.4" fill="none"/>
<text x="490.85 504.35 517.85 531.35" y="102.5" class="st">****</text>
<path d="M412.7 128.4H542.1" stroke="#000" stroke-width="3.4" fill="none"/>
<text x="456.65 470.15 483.65 497.15" y="129.9" class="st">****</text>
<path d="M410.2 153.9H475.4" stroke="#000" stroke-width="3.4" fill="none"/>
<text x="436.45 449.95" y="155.4" class="st">**</text>
</g>
<g transform="translate(661,423)">
<text transform="translate(377.7,55.55) scale(0.958,1)" font-size="23.45" font-weight="bold" text-anchor="middle">MPC2-K49A</text>
<rect x="123" y="276.85" width="41.8" height="51.65" fill="#808080" stroke="#000" stroke-width="2"/>
<rect x="189.67" y="248.11" width="41.8" height="80.39" fill="#808080" stroke="#000" stroke-width="2"/>
<rect x="256.34" y="184.31" width="41.8" height="144.19" fill="#808080" stroke="#000" stroke-width="2"/>
<rect x="323.01" y="154.86" width="41.8" height="173.64" fill="#808080" stroke="#000" stroke-width="2"/>
<rect x="389.68" y="302.56" width="41.8" height="25.94" fill="#d9d9d9" stroke="#000" stroke-width="2"/>
<rect x="456.35" y="302.56" width="41.8" height="25.94" fill="#d9d9d9" stroke="#000" stroke-width="2"/>
<rect x="523.02" y="283.63" width="41.8" height="44.87" fill="#d9d9d9" stroke="#000" stroke-width="2"/>
<rect x="589.69" y="258.16" width="41.8" height="70.34" fill="#d9d9d9" stroke="#000" stroke-width="2"/>
<path d="M99.8 93.8V328.5M89.8 328.5H654.6" stroke="#000" stroke-width="2.2" fill="none"/>
<path d="M89.8 305.13H99.8M89.8 281.76H99.8M89.8 258.39H99.8M89.8 235.02H99.8M89.8 211.65H99.8M89.8 188.28H99.8M89.8 164.91H99.8M89.8 141.54H99.8M89.8 118.17H99.8M89.8 94.8H99.8M143.9 328.5V338.5M210.57 328.5V338.5M277.24 328.5V338.5M343.91 328.5V338.5M410.58 328.5V338.5M477.25 328.5V338.5M543.92 328.5V338.5M610.59 328.5V338.5" stroke="#000" stroke-width="2.2" fill="none"/>
<text transform="translate(86.5,334.6) scale(1.035,1)" font-size="17.2" text-anchor="end">80</text>
<text transform="translate(86.5,311.23) scale(1.035,1)" font-size="17.2" text-anchor="end">90</text>
<text transform="translate(86.5,287.86) scale(1.035,1)" font-size="17.2" text-anchor="end">100</text>
<text transform="translate(86.5,264.49) scale(1.035,1)" font-size="17.2" text-anchor="end">110</text>
<text transform="translate(86.5,241.12) scale(1.035,1)" font-size="17.2" text-anchor="end">120</text>
<text transform="translate(86.5,217.75) scale(1.035,1)" font-size="17.2" text-anchor="end">130</text>
<text transform="translate(86.5,194.38) scale(1.035,1)" font-size="17.2" text-anchor="end">140</text>
<text transform="translate(86.5,171.01) scale(1.035,1)" font-size="17.2" text-anchor="end">150</text>
<text transform="translate(86.5,147.64) scale(1.035,1)" font-size="17.2" text-anchor="end">160</text>
<text transform="translate(86.5,124.27) scale(1.035,1)" font-size="17.2" text-anchor="end">170</text>
<text transform="translate(86.5,100.9) scale(1.035,1)" font-size="17.2" text-anchor="end">180</text>
<text transform="translate(43.1,211.8) rotate(-90)" font-size="19.05" text-anchor="middle">Normalized BRET %</text>
<text x="143.9" y="358.5" font-size="18.0" text-anchor="middle">DMSO</text>
<text x="143.9" y="378.6" font-size="18.0" text-anchor="middle">Veh</text>
<text x="210.57" y="358.5" font-size="18.0" text-anchor="middle">Pyruvate</text>
<text x="277.24" y="358.5" font-size="18.0" text-anchor="middle">10µM</text>
<text x="277.24" y="378.6" font-size="18.0" text-anchor="middle">0602K</text>
<text x="343.91" y="358.5" font-size="18.0" text-anchor="middle">5µM</text>
<text x="343.91" y="378.6" font-size="18.0" text-anchor="middle">UK-5099</text>
<text x="410.58" y="358.5" font-size="18.0" text-anchor="middle">DMSO</text>
<text x="410.58" y="378.6" font-size="18.0" text-anchor="middle">Veh</text>
<text x="477.25" y="358.5" font-size="18.0" text-anchor="middle">Pyruvate</text>
<text x="543.92" y="358.5" font-size="18.0" text-anchor="middle">10µM</text>
<text x="543.92" y="378.6" font-size="18.0" text-anchor="middle">0602K</text>
<text x="610.59" y="358.5" font-size="18.0" text-anchor="middle">5µM</text>
<text x="610.59" y="378.6" font-size="18.0" text-anchor="middle">UK-5099</text>
<path d="M122.2 388.3H365.2M389.5 388.3H632.6" stroke="#000" stroke-width="2.6" stroke-linecap="round" fill="none"/>
<text transform="translate(242.8,409.5) scale(0.965,1)" font-size="18.05" text-anchor="middle">WT</text>
<text transform="translate(511.4,409.5) scale(0.965,1)" font-size="18.05" text-anchor="middle">MPC2-K49A</text>
<path d="M143.9 273.35V280.36M131.9 273.35H155.9M131.9 280.36H155.9" stroke="#000" stroke-width="2" fill="none"/>
<path d="M210.57 244.6V251.61M198.57 244.6H222.57M198.57 251.61H222.57" stroke="#000" stroke-width="2" fill="none"/>
<path d="M277.24 182.44V186.18M265.24 182.44H289.24M265.24 186.18H289.24" stroke="#000" stroke-width="2" fill="none"/>
<path d="M343.91 150.42V159.3M331.91 150.42H355.91M331.91 159.3H355.91" stroke="#000" stroke-width="2" fill="none"/>
<path d="M410.58 297.89V307.23M398.58 297.89H422.58M398.58 307.23H422.58" stroke="#000" stroke-width="2" fill="none"/>
<path d="M477.25 298.59V306.53M465.25 298.59H489.25M465.25 306.53H489.25" stroke="#000" stroke-width="2" fill="none"/>
<path d="M543.92 278.49V288.77M531.92 278.49H555.92M531.92 288.77H555.92" stroke="#000" stroke-width="2" fill="none"/>
<path d="M610.59 254.18V262.13M598.59 254.18H622.59M598.59 262.13H622.59" stroke="#000" stroke-width="2" fill="none"/>
<g fill="none" stroke="#000" stroke-width="2.4"><circle cx="133.9" cy="254.34" r="2.5"/><circle cx="143.9" cy="258.09" r="2.5"/><circle cx="133.9" cy="259.84" r="2.5"/><circle cx="153.9" cy="262.34" r="2.5"/><circle cx="143.9" cy="263.09" r="2.5"/><circle cx="133.9" cy="266.34" r="2.5"/><circle cx="153.9" cy="269.33" r="2.5"/><circle cx="163.9" cy="273.08" r="2.5"/><circle cx="123.9" cy="275.58" r="2.5"/><circle cx="133.9" cy="278.08" r="2.5"/><circle cx="143.9" cy="278.08" r="2.5"/><circle cx="163.9" cy="278.08" r="2.5"/><circle cx="133.9" cy="281.82" r="2.5"/><circle cx="143.9" cy="281.82" r="2.5"/><circle cx="143.9" cy="284.32" r="2.5"/><circle cx="138.9" cy="298.81" r="2.5"/><circle cx="148.9" cy="299.81" r="2.5"/><circle cx="143.9" cy="307.55" r="2.5"/></g>
<g fill="none" stroke="#000" stroke-width="2.4"><circle cx="210.57" cy="224.87" r="2.5"/><circle cx="190.57" cy="234.36" r="2.5"/><circle cx="205.57" cy="234.36" r="2.5"/><circle cx="215.57" cy="234.36" r="2.5"/><circle cx="230.57" cy="234.36" r="2.5"/><circle cx="210.57" cy="239.36" r="2.5"/><circle cx="230.57" cy="239.36" r="2.5"/><circle cx="198.57" cy="241.85" r="2.5"/><circle cx="206.57" cy="241.85" r="2.5"/><circle cx="214.57" cy="241.85" r="2.5"/><circle cx="222.57" cy="241.85" r="2.5"/><circle cx="190.57" cy="243.6" r="2.5"/><circle cx="210.57" cy="246.85" r="2.5"/><circle cx="210.57" cy="251.85" r="2.5"/><circle cx="205.57" cy="254.84" r="2.5"/><circle cx="210.57" cy="260.59" r="2.5"/><circle cx="205.57" cy="267.33" r="2.5"/><circle cx="215.57" cy="269.33" r="2.5"/><circle cx="210.57" cy="281.32" r="2.5"/></g>
<g fill="none" stroke="#000" stroke-width="2.4"><circle cx="284.04" cy="169.41" r="2.5"/><circle cx="270.44" cy="171.91" r="2.5"/><circle cx="277.24" cy="171.91" r="2.5"/><circle cx="270.44" cy="176.4" r="2.5"/><circle cx="277.24" cy="176.4" r="2.5"/><circle cx="270.44" cy="181.15" r="2.5"/><circle cx="277.24" cy="181.15" r="2.5"/><circle cx="284.04" cy="181.15" r="2.5"/><circle cx="256.84" cy="185.15" r="2.5"/><circle cx="263.64" cy="185.15" r="2.5"/><circle cx="277.24" cy="185.15" r="2.5"/><circle cx="284.04" cy="185.15" r="2.5"/><circle cx="290.84" cy="185.15" r="2.5"/><circle cx="263.64" cy="189.39" r="2.5"/><circle cx="270.44" cy="189.39" r="2.5"/><circle cx="277.24" cy="189.39" r="2.5"/><circle cx="284.04" cy="189.39" r="2.5"/><circle cx="297.64" cy="189.39" r="2.5"/><circle cx="263.64" cy="191.39" r="2.5"/><circle cx="290.84" cy="195.64" r="2.5"/></g>
<g fill="none" stroke="#000" stroke-width="2.4"><circle cx="343.91" cy="122.44" r="2.5"/><circle cx="323.91" cy="135.68" r="2.5"/><circle cx="333.91" cy="138.18" r="2.5"/><circle cx="353.91" cy="141.43" r="2.5"/><circle cx="363.91" cy="135.68" r="2.5"/><circle cx="323.91" cy="149.42" r="2.5"/><circle cx="363.91" cy="149.42" r="2.5"/><circle cx="333.91" cy="146.93" r="2.5"/><circle cx="353.91" cy="150.67" r="2.5"/><circle cx="338.91" cy="153.17" r="2.5"/><circle cx="348.91" cy="153.17" r="2.5"/><circle cx="333.91" cy="156.92" r="2.5"/><circle cx="343.91" cy="156.92" r="2.5"/><circle cx="353.91" cy="156.92" r="2.5"/><circle cx="333.91" cy="169.41" r="2.5"/><circle cx="343.91" cy="168.66" r="2.5"/><circle cx="353.91" cy="169.91" r="2.5"/><circle cx="343.91" cy="183.9" r="2.5"/><circle cx="343.91" cy="189.39" r="2.5"/></g>
<g fill="#000"><circle cx="410.58" cy="253.1" r="3.45"/><circle cx="410.58" cy="282.57" r="3.45"/><circle cx="405.83" cy="288.57" r="3.45"/><circle cx="396.33" cy="293.07" r="3.45"/><circle cx="415.33" cy="293.07" r="3.45"/><circle cx="424.83" cy="296.31" r="3.45"/><circle cx="396.33" cy="299.31" r="3.45"/><circle cx="405.83" cy="299.31" r="3.45"/><circle cx="405.83" cy="301.81" r="3.45"/><circle cx="415.33" cy="303.06" r="3.45"/><circle cx="410.58" cy="306.81" r="3.45"/><circle cx="405.83" cy="310.55" r="3.45"/><circle cx="405.83" cy="316.3" r="3.45"/><circle cx="415.33" cy="318.05" r="3.45"/><circle cx="424.83" cy="314.8" r="3.45"/><circle cx="410.58" cy="323.04" r="3.45"/><circle cx="420.08" cy="324.29" r="3.45"/><circle cx="401.08" cy="324.79" r="3.45"/></g>
<g fill="#000"><circle cx="477.25" cy="273.58" r="3.45"/><circle cx="467.25" cy="284.32" r="3.45"/><circle cx="457.25" cy="285.57" r="3.45"/><circle cx="477.25" cy="288.82" r="3.45"/><circle cx="487.25" cy="288.82" r="3.45"/><circle cx="477.25" cy="294.31" r="3.45"/><circle cx="467.25" cy="299.31" r="3.45"/><circle cx="487.25" cy="299.31" r="3.45"/><circle cx="477.25" cy="303.06" r="3.45"/><circle cx="487.25" cy="303.06" r="3.45"/><circle cx="457.25" cy="308.8" r="3.45"/><circle cx="477.25" cy="308.8" r="3.45"/><circle cx="467.25" cy="310.55" r="3.45"/><circle cx="487.25" cy="312.3" r="3.45"/><circle cx="467.25" cy="317.3" r="3.45"/><circle cx="477.25" cy="317.3" r="3.45"/><circle cx="487.25" cy="320.54" r="3.45"/><circle cx="467.25" cy="323.04" r="3.45"/><circle cx="487.25" cy="321.79" r="3.45"/></g>
<g fill="#000"><circle cx="543.92" cy="249.35" r="3.45"/><circle cx="539.17" cy="259.34" r="3.45"/><circle cx="529.67" cy="261.34" r="3.45"/><circle cx="548.67" cy="261.34" r="3.45"/><circle cx="558.17" cy="261.34" r="3.45"/><circle cx="539.17" cy="269.33" r="3.45"/><circle cx="548.67" cy="274.33" r="3.45"/><circle cx="539.17" cy="278.08" r="3.45"/><circle cx="529.67" cy="281.82" r="3.45"/><circle cx="548.67" cy="283.07" r="3.45"/><circle cx="558.17" cy="285.57" r="3.45"/><circle cx="539.17" cy="288.07" r="3.45"/><circle cx="548.67" cy="290.57" r="3.45"/><circle cx="539.17" cy="296.81" r="3.45"/><circle cx="548.67" cy="294.31" r="3.45"/><circle cx="539.17" cy="298.06" r="3.45"/><circle cx="543.92" cy="324.79" r="3.45"/></g>
<g fill="#000"><circle cx="610.59" cy="220.62" r="3.45"/><circle cx="598.59" cy="242.6" r="3.45"/><circle cx="606.59" cy="246.35" r="3.45"/><circle cx="614.59" cy="246.35" r="3.45"/><circle cx="590.59" cy="248.85" r="3.45"/><circle cx="598.59" cy="248.85" r="3.45"/><circle cx="622.59" cy="248.85" r="3.45"/><circle cx="630.59" cy="248.1" r="3.45"/><circle cx="606.59" cy="255.59" r="3.45"/><circle cx="614.59" cy="255.59" r="3.45"/><circle cx="606.59" cy="259.34" r="3.45"/><circle cx="614.59" cy="259.34" r="3.45"/><circle cx="598.59" cy="264.34" r="3.45"/><circle cx="622.59" cy="262.34" r="3.45"/><circle cx="606.59" cy="268.08" r="3.45"/><circle cx="614.59" cy="268.08" r="3.45"/><circle cx="606.59" cy="273.58" r="3.45"/><circle cx="614.59" cy="278.83" r="3.45"/><circle cx="606.59" cy="282.32" r="3.45"/></g>
<path d="M343 64.5H611.8" stroke="#a6a6a6" stroke-width="3.4" fill="none"/>
<text x="459.65 473.15 486.65 500.15" y="66" class="st g" fill="#a6a6a6">****</text>
<path d="M274.1 76.3H542.6" stroke="#a6a6a6" stroke-width="3.4" fill="none"/>
<text x="390.65 404.15 417.65 431.15" y="77.8" class="st g" fill="#a6a6a6">****</text>
<path d="M211.6 89H480.6" stroke="#a6a6a6" stroke-width="3.4" fill="none"/>
<text x="327.95 341.45 354.95 368.45" y="90.5" class="st g" fill="#a6a6a6">****</text>
<path d="M148.4 106H417.4" stroke="#a6a6a6" stroke-width="3.4" fill="none"/>
<text x="265.55 279.05 292.55 306.05" y="107.5" class="st g" fill="#a6a6a6">****</text>
<path d="M147.2 119.9H340" stroke="#000" stroke-width="3.4" fill="none"/>
<text x="224.85 238.35 251.85 265.35" y="121.4" class="st">****</text>
<path d="M147.2 156.4H276.1" stroke="#000" stroke-width="3.4" fill="none"/>
<text x="190.35 203.85 217.35 230.85" y="157.9" class="st">****</text>
<path d="M144.7 211.9H209.4" stroke="#000" stroke-width="3.4" fill="none"/>
<text x="156.65 170.15 183.65 197.15" y="213.4" class="st">****</text>
<path d="M411.4 213.4H604.8" stroke="#000" stroke-width="3.4" fill="none"/>
<text x="489.05 502.55 516.05 529.55" y="214.9" class="st">****</text>
<path d="M411.4 234.4H540.6" stroke="#000" stroke-width="3.4" fill="none"/>
<text x="469.15 482.65" y="235.9" class="st">**</text>
</g>
<g transform="translate(0,840)">
<text transform="translate(377.7,55.55) scale(0.958,1)" font-size="23.45" font-weight="bold" text-anchor="middle">MPC2-W82A</text>
<rect x="123" y="266.57" width="41.8" height="61.93" fill="#808080" stroke="#000" stroke-width="2"/>
<rect x="189.67" y="239.81" width="41.8" height="88.69" fill="#808080" stroke="#000" stroke-width="2"/>
<rect x="256.34" y="226.61" width="41.8" height="101.89" fill="#808080" stroke="#000" stroke-width="2"/>
<rect x="323.01" y="198.1" width="41.8" height="130.4" fill="#808080" stroke="#000" stroke-width="2"/>
<rect x="389.68" y="271.59" width="41.8" height="56.91" fill="#d9d9d9" stroke="#000" stroke-width="2"/>
<rect x="456.35" y="240.16" width="41.8" height="88.34" fill="#d9d9d9" stroke="#000" stroke-width="2"/>
<rect x="523.02" y="214.1" width="41.8" height="114.4" fill="#d9d9d9" stroke="#000" stroke-width="2"/>
<rect x="589.69" y="204.64" width="41.8" height="123.86" fill="#d9d9d9" stroke="#000" stroke-width="2"/>
<path d="M99.8 93.8V328.5M89.8 328.5H654.6" stroke="#000" stroke-width="2.2" fill="none"/>
<path d="M89.8 305.13H99.8M89.8 281.76H99.8M89.8 258.39H99.8M89.8 235.02H99.8M89.8 211.65H99.8M89.8 188.28H99.8M89.8 164.91H99.8M89.8 141.54H99.8M89.8 118.17H99.8M89.8 94.8H99.8M143.9 328.5V338.5M210.57 328.5V338.5M277.24 328.5V338.5M343.91 328.5V338.5M410.58 328.5V338.5M477.25 328.5V338.5M543.92 328.5V338.5M610.59 328.5V338.5" stroke="#000" stroke-width="2.2" fill="none"/>
<text transform="translate(86.5,334.6) scale(1.035,1)" font-size="17.2" text-anchor="end">80</text>
<text transform="translate(86.5,311.23) scale(1.035,1)" font-size="17.2" text-anchor="end">90</text>
<text transform="translate(86.5,287.86) scale(1.035,1)" font-size="17.2" text-anchor="end">100</text>
<text transform="translate(86.5,264.49) scale(1.035,1)" font-size="17.2" text-anchor="end">110</text>
<text transform="translate(86.5,241.12) scale(1.035,1)" font-size="17.2" text-anchor="end">120</text>
<text transform="translate(86.5,217.75) scale(1.035,1)" font-size="17.2" text-anchor="end">130</text>
<text transform="translate(86.5,194.38) scale(1.035,1)" font-size="17.2" text-anchor="end">140</text>
<text transform="translate(86.5,171.01) scale(1.035,1)" font-size="17.2" text-anchor="end">150</text>
<text transform="translate(86.5,147.64) scale(1.035,1)" font-size="17.2" text-anchor="end">160</text>
<text transform="translate(86.5,124.27) scale(1.035,1)" font-size="17.2" text-anchor="end">170</text>
<text transform="translate(86.5,100.9) scale(1.035,1)" font-size="17.2" text-anchor="end">180</text>
<text transform="translate(43.1,211.8) rotate(-90)" font-size="19.05" text-anchor="middle">Normalized BRET %</text>
<text x="143.9" y="358.5" font-size="18.0" text-anchor="middle">DMSO</text>
<text x="143.9" y="378.6" font-size="18.0" text-anchor="middle">Veh</text>
<text x="210.57" y="358.5" font-size="18.0" text-anchor="middle">Pyruvate</text>
<text x="277.24" y="358.5" font-size="18.0" text-anchor="middle">10µM</text>
<text x="277.24" y="378.6" font-size="18.0" text-anchor="middle">0602K</text>
<text x="343.91" y="358.5" font-size="18.0" text-anchor="middle">5µM</text>
<text x="343.91" y="378.6" font-size="18.0" text-anchor="middle">UK-5099</text>
<text x="410.58" y="358.5" font-size="18.0" text-anchor="middle">DMSO</text>
<text x="410.58" y="378.6" font-size="18.0" text-anchor="middle">Veh</text>
<text x="477.25" y="358.5" font-size="18.0" text-anchor="middle">Pyruvate</text>
<text x="543.92" y="358.5" font-size="18.0" text-anchor="middle">10µM</text>
<text x="543.92" y="378.6" font-size="18.0" text-anchor="middle">0602K</text>
<text x="610.59" y="358.5" font-size="18.0" text-anchor="middle">5µM</text>
<text x="610.59" y="378.6" font-size="18.0" text-anchor="middle">UK-5099</text>
<path d="M122.2 388.3H365.2M389.5 388.3H632.6" stroke="#000" stroke-width="2.6" stroke-linecap="round" fill="none"/>
<text transform="translate(242.8,409.5) scale(0.965,1)" font-size="18.05" text-anchor="middle">WT</text>
<text transform="translate(511.4,409.5) scale(0.965,1)" font-size="18.05" text-anchor="middle">MPC2-W82A</text>
<path d="M143.9 263.06V270.07M131.9 263.06H155.9M131.9 270.07H155.9" stroke="#000" stroke-width="2" fill="none"/>
<path d="M210.57 234.44V245.19M198.57 234.44H222.57M198.57 245.19H222.57" stroke="#000" stroke-width="2" fill="none"/>
<path d="M277.24 221.47V231.75M265.24 221.47H289.24M265.24 231.75H289.24" stroke="#000" stroke-width="2" fill="none"/>
<path d="M343.91 192.49V203.7M331.91 192.49H355.91M331.91 203.7H355.91" stroke="#000" stroke-width="2" fill="none"/>
<path d="M410.58 268.32V274.87M398.58 268.32H422.58M398.58 274.87H422.58" stroke="#000" stroke-width="2" fill="none"/>
<path d="M477.25 237.59V242.73M465.25 237.59H489.25M465.25 242.73H489.25" stroke="#000" stroke-width="2" fill="none"/>
<path d="M543.92 211.07V217.14M531.92 211.07H555.92M531.92 217.14H555.92" stroke="#000" stroke-width="2" fill="none"/>
<path d="M610.59 201.37V207.91M598.59 201.37H622.59M598.59 207.91H622.59" stroke="#000" stroke-width="2" fill="none"/>
<g fill="none" stroke="#000" stroke-width="2.4"><circle cx="139.15" cy="241.58" r="2.5"/><circle cx="158.15" cy="245.33" r="2.5"/><circle cx="139.15" cy="247.83" r="2.5"/><circle cx="148.65" cy="247.83" r="2.5"/><circle cx="139.15" cy="256.07" r="2.5"/><circle cx="148.65" cy="256.07" r="2.5"/><circle cx="129.65" cy="261.82" r="2.5"/><circle cx="158.15" cy="261.82" r="2.5"/><circle cx="139.15" cy="263.57" r="2.5"/><circle cx="148.65" cy="263.57" r="2.5"/><circle cx="129.65" cy="268.56" r="2.5"/><circle cx="139.15" cy="268.56" r="2.5"/><circle cx="148.65" cy="268.56" r="2.5"/><circle cx="158.15" cy="268.56" r="2.5"/><circle cx="148.65" cy="273.56" r="2.5"/><circle cx="129.65" cy="278.56" r="2.5"/><circle cx="158.15" cy="278.56" r="2.5"/><circle cx="139.15" cy="281.05" r="2.5"/><circle cx="148.65" cy="281.05" r="2.5"/><circle cx="143.9" cy="289.8" r="2.5"/></g>
<g fill="none" stroke="#000" stroke-width="2.4"><circle cx="220.07" cy="200.36" r="2.5"/><circle cx="210.57" cy="202.36" r="2.5"/><circle cx="210.57" cy="208.11" r="2.5"/><circle cx="201.07" cy="224.85" r="2.5"/><circle cx="201.07" cy="228.59" r="2.5"/><circle cx="220.07" cy="228.59" r="2.5"/><circle cx="210.57" cy="231.09" r="2.5"/><circle cx="210.57" cy="237.34" r="2.5"/><circle cx="210.57" cy="242.33" r="2.5"/><circle cx="201.07" cy="246.08" r="2.5"/><circle cx="210.57" cy="246.08" r="2.5"/><circle cx="220.07" cy="246.08" r="2.5"/><circle cx="201.07" cy="253.57" r="2.5"/><circle cx="210.57" cy="255.57" r="2.5"/><circle cx="220.07" cy="255.57" r="2.5"/><circle cx="205.82" cy="261.07" r="2.5"/><circle cx="215.32" cy="264.82" r="2.5"/><circle cx="210.57" cy="280.55" r="2.5"/></g>
<g fill="none" stroke="#000" stroke-width="2.4"><circle cx="277.24" cy="172.89" r="2.5"/><circle cx="277.24" cy="196.87" r="2.5"/><circle cx="272.49" cy="212.36" r="2.5"/><circle cx="281.99" cy="215.6" r="2.5"/><circle cx="291.49" cy="217.35" r="2.5"/><circle cx="262.99" cy="219.85" r="2.5"/><circle cx="291.49" cy="221.1" r="2.5"/><circle cx="272.49" cy="222.35" r="2.5"/><circle cx="281.99" cy="227.34" r="2.5"/><circle cx="277.24" cy="231.09" r="2.5"/><circle cx="262.99" cy="236.09" r="2.5"/><circle cx="272.49" cy="236.09" r="2.5"/><circle cx="281.99" cy="237.34" r="2.5"/><circle cx="291.49" cy="239.84" r="2.5"/><circle cx="262.99" cy="241.08" r="2.5"/><circle cx="272.49" cy="243.58" r="2.5"/><circle cx="281.99" cy="246.83" r="2.5"/><circle cx="272.49" cy="251.83" r="2.5"/></g>
<g fill="none" stroke="#000" stroke-width="2.4"><circle cx="339.16" cy="164.92" r="2.5"/><circle cx="348.66" cy="162.92" r="2.5"/><circle cx="339.16" cy="171.17" r="2.5"/><circle cx="348.66" cy="171.17" r="2.5"/><circle cx="339.16" cy="177.91" r="2.5"/><circle cx="348.66" cy="177.91" r="2.5"/><circle cx="334.41" cy="191.15" r="2.5"/><circle cx="343.91" cy="194.9" r="2.5"/><circle cx="334.41" cy="198.65" r="2.5"/><circle cx="343.91" cy="203.14" r="2.5"/><circle cx="353.41" cy="203.14" r="2.5"/><circle cx="334.41" cy="211.14" r="2.5"/><circle cx="353.41" cy="211.14" r="2.5"/><circle cx="343.91" cy="206.14" r="2.5"/><circle cx="343.91" cy="214.88" r="2.5"/><circle cx="339.16" cy="219.13" r="2.5"/><circle cx="348.66" cy="219.13" r="2.5"/><circle cx="339.16" cy="228.62" r="2.5"/><circle cx="348.66" cy="228.62" r="2.5"/></g>
<g fill="#000"><circle cx="424.83" cy="251.86" r="3.45"/><circle cx="415.33" cy="253.6" r="3.45"/><circle cx="405.83" cy="258.6" r="3.45"/><circle cx="415.33" cy="258.6" r="3.45"/><circle cx="424.83" cy="259.85" r="3.45"/><circle cx="396.33" cy="262.85" r="3.45"/><circle cx="405.83" cy="264.85" r="3.45"/><circle cx="424.83" cy="264.85" r="3.45"/><circle cx="405.83" cy="271.09" r="3.45"/><circle cx="415.33" cy="271.09" r="3.45"/><circle cx="424.83" cy="271.09" r="3.45"/><circle cx="405.83" cy="274.84" r="3.45"/><circle cx="415.33" cy="274.84" r="3.45"/><circle cx="396.33" cy="282.33" r="3.45"/><circle cx="415.33" cy="282.33" r="3.45"/><circle cx="405.83" cy="285.58" r="3.45"/><circle cx="410.58" cy="292.83" r="3.45"/><circle cx="410.58" cy="301.57" r="3.45"/></g>
<g fill="#000"><circle cx="477.25" cy="220.38" r="3.45"/><circle cx="481.25" cy="228.62" r="3.45"/><circle cx="473.25" cy="231.87" r="3.45"/><circle cx="489.25" cy="231.87" r="3.45"/><circle cx="457.25" cy="233.12" r="3.45"/><circle cx="457.25" cy="237.87" r="3.45"/><circle cx="497.25" cy="237.87" r="3.45"/><circle cx="465.25" cy="239.87" r="3.45"/><circle cx="473.25" cy="239.87" r="3.45"/><circle cx="481.25" cy="239.87" r="3.45"/><circle cx="489.25" cy="239.87" r="3.45"/><circle cx="457.25" cy="244.11" r="3.45"/><circle cx="497.25" cy="244.11" r="3.45"/><circle cx="465.25" cy="246.11" r="3.45"/><circle cx="489.25" cy="246.11" r="3.45"/><circle cx="473.25" cy="248.61" r="3.45"/><circle cx="481.25" cy="251.86" r="3.45"/><circle cx="477.25" cy="259.1" r="3.45"/></g>
<g fill="#000"><circle cx="543.92" cy="197.4" r="3.45"/><circle cx="530.52" cy="204.89" r="3.45"/><circle cx="557.32" cy="204.89" r="3.45"/><circle cx="543.92" cy="206.14" r="3.45"/><circle cx="564.02" cy="206.14" r="3.45"/><circle cx="523.82" cy="209.89" r="3.45"/><circle cx="530.52" cy="209.89" r="3.45"/><circle cx="537.22" cy="209.89" r="3.45"/><circle cx="543.92" cy="209.89" r="3.45"/><circle cx="550.62" cy="209.89" r="3.45"/><circle cx="557.32" cy="209.89" r="3.45"/><circle cx="564.02" cy="209.89" r="3.45"/><circle cx="537.22" cy="212.39" r="3.45"/><circle cx="543.92" cy="212.39" r="3.45"/><circle cx="550.62" cy="212.39" r="3.45"/><circle cx="537.22" cy="226.13" r="3.45"/><circle cx="550.62" cy="229.12" r="3.45"/><circle cx="543.92" cy="230.62" r="3.45"/><circle cx="543.92" cy="236.62" r="3.45"/></g>
<g fill="#000"><circle cx="614.59" cy="181.91" r="3.45"/><circle cx="606.59" cy="184.41" r="3.45"/><circle cx="598.59" cy="192.4" r="3.45"/><circle cx="606.59" cy="196.15" r="3.45"/><circle cx="622.59" cy="196.15" r="3.45"/><circle cx="614.59" cy="199.9" r="3.45"/><circle cx="590.59" cy="203.14" r="3.45"/><circle cx="630.59" cy="203.14" r="3.45"/><circle cx="598.59" cy="204.39" r="3.45"/><circle cx="606.59" cy="204.39" r="3.45"/><circle cx="614.59" cy="204.39" r="3.45"/><circle cx="622.59" cy="204.39" r="3.45"/><circle cx="606.59" cy="209.89" r="3.45"/><circle cx="598.59" cy="212.89" r="3.45"/><circle cx="606.59" cy="215.38" r="3.45"/><circle cx="614.59" cy="215.38" r="3.45"/><circle cx="622.59" cy="217.38" r="3.45"/><circle cx="610.59" cy="232.87" r="3.45"/></g>
<path d="M145.7 139.4H339" stroke="#000" stroke-width="3.4" fill="none"/>
<text x="223.35 236.85 250.35 263.85" y="140.9" class="st">****</text>
<path d="M145.7 160.4H274.6" stroke="#000" stroke-width="3.4" fill="none"/>
<text x="188.85 202.35 215.85 229.35" y="161.9" class="st">****</text>
<path d="M143.2 191.1H207.9" stroke="#000" stroke-width="3.4" fill="none"/>
<text x="155.15 168.65 182.15 195.65" y="192.6" class="st">****</text>
<path d="M412.7 157.7H606.5" stroke="#000" stroke-width="3.4" fill="none"/>
<text x="490.85 504.35 517.85 531.35" y="159.2" class="st">****</text>
<path d="M412.7 178.7H542.1" stroke="#000" stroke-width="3.4" fill="none"/>
<text x="456.65 470.15 483.65 497.15" y="180.2" class="st">****</text>
<path d="M410.2 209.4H475.4" stroke="#000" stroke-width="3.4" fill="none"/>
<text x="422.15 435.65 449.15 462.65" y="210.9" class="st">****</text>
</g>
<g transform="translate(661,840)">
<text transform="translate(377.7,55.55) scale(0.958,1)" font-size="23.45" font-weight="bold" text-anchor="middle">MPC2-N100A</text>
<rect x="123" y="284.1" width="41.8" height="44.4" fill="#808080" stroke="#000" stroke-width="2"/>
<rect x="189.67" y="251.15" width="41.8" height="77.35" fill="#808080" stroke="#000" stroke-width="2"/>
<rect x="256.34" y="227.31" width="41.8" height="101.19" fill="#808080" stroke="#000" stroke-width="2"/>
<rect x="323.01" y="199.97" width="41.8" height="128.53" fill="#808080" stroke="#000" stroke-width="2"/>
<rect x="389.68" y="254.3" width="41.8" height="74.2" fill="#d9d9d9" stroke="#000" stroke-width="2"/>
<rect x="456.35" y="254.88" width="41.8" height="73.62" fill="#d9d9d9" stroke="#000" stroke-width="2"/>
<rect x="523.02" y="240.63" width="41.8" height="87.87" fill="#d9d9d9" stroke="#000" stroke-width="2"/>
<rect x="589.69" y="241.1" width="41.8" height="87.4" fill="#d9d9d9" stroke="#000" stroke-width="2"/>
<path d="M99.8 93.8V328.5M89.8 328.5H654.6" stroke="#000" stroke-width="2.2" fill="none"/>
<path d="M89.8 305.13H99.8M89.8 281.76H99.8M89.8 258.39H99.8M89.8 235.02H99.8M89.8 211.65H99.8M89.8 188.28H99.8M89.8 164.91H99.8M89.8 141.54H99.8M89.8 118.17H99.8M89.8 94.8H99.8M143.9 328.5V338.5M210.57 328.5V338.5M277.24 328.5V338.5M343.91 328.5V338.5M410.58 328.5V338.5M477.25 328.5V338.5M543.92 328.5V338.5M610.59 328.5V338.5" stroke="#000" stroke-width="2.2" fill="none"/>
<text transform="translate(86.5,334.6) scale(1.035,1)" font-size="17.2" text-anchor="end">80</text>
<text transform="translate(86.5,311.23) scale(1.035,1)" font-size="17.2" text-anchor="end">90</text>
<text transform="translate(86.5,287.86) scale(1.035,1)" font-size="17.2" text-anchor="end">100</text>
<text transform="translate(86.5,264.49) scale(1.035,1)" font-size="17.2" text-anchor="end">110</text>
<text transform="translate(86.5,241.12) scale(1.035,1)" font-size="17.2" text-anchor="end">120</text>
<text transform="translate(86.5,217.75) scale(1.035,1)" font-size="17.2" text-anchor="end">130</text>
<text transform="translate(86.5,194.38) scale(1.035,1)" font-size="17.2" text-anchor="end">140</text>
<text transform="translate(86.5,171.01) scale(1.035,1)" font-size="17.2" text-anchor="end">150</text>
<text transform="translate(86.5,147.64) scale(1.035,1)" font-size="17.2" text-anchor="end">160</text>
<text transform="translate(86.5,124.27) scale(1.035,1)" font-size="17.2" text-anchor="end">170</text>
<text transform="translate(86.5,100.9) scale(1.035,1)" font-size="17.2" text-anchor="end">180</text>
<text transform="translate(43.1,211.8) rotate(-90)" font-size="19.05" text-anchor="middle">Normalized BRET %</text>
<text x="143.9" y="358.5" font-size="18.0" text-anchor="middle">DMSO</text>
<text x="143.9" y="378.6" font-size="18.0" text-anchor="middle">Veh</text>
<text x="210.57" y="358.5" font-size="18.0" text-anchor="middle">Pyruvate</text>
<text x="277.24" y="358.5" font-size="18.0" text-anchor="middle">10µM</text>
<text x="277.24" y="378.6" font-size="18.0" text-anchor="middle">0602K</text>
<text x="343.91" y="358.5" font-size="18.0" text-anchor="middle">5µM</text>
<text x="343.91" y="378.6" font-size="18.0" text-anchor="middle">UK-5099</text>
<text x="410.58" y="358.5" font-size="18.0" text-anchor="middle">DMSO</text>
<text x="410.58" y="378.6" font-size="18.0" text-anchor="middle">Veh</text>
<text x="477.25" y="358.5" font-size="18.0" text-anchor="middle">Pyruvate</text>
<text x="543.92" y="358.5" font-size="18.0" text-anchor="middle">10µM</text>
<text x="543.92" y="378.6" font-size="18.0" text-anchor="middle">0602K</text>
<text x="610.59" y="358.5" font-size="18.0" text-anchor="middle">5µM</text>
<text x="610.59" y="378.6" font-size="18.0" text-anchor="middle">UK-5099</text>
<path d="M122.2 388.3H365.2M389.5 388.3H632.6" stroke="#000" stroke-width="2.6" stroke-linecap="round" fill="none"/>
<text transform="translate(242.8,409.5) scale(0.965,1)" font-size="18.05" text-anchor="middle">WT</text>
<text transform="translate(511.4,409.5) scale(0.965,1)" font-size="18.05" text-anchor="middle">MPC2-N100A</text>
<path d="M143.9 281.06V287.14M131.9 281.06H155.9M131.9 287.14H155.9" stroke="#000" stroke-width="2" fill="none"/>
<path d="M210.57 248.81V253.48M198.57 248.81H222.57M198.57 253.48H222.57" stroke="#000" stroke-width="2" fill="none"/>
<path d="M277.24 224.74V229.88M265.24 224.74H289.24M265.24 229.88H289.24" stroke="#000" stroke-width="2" fill="none"/>
<path d="M343.91 196.69V203.24M331.91 196.69H355.91M331.91 203.24H355.91" stroke="#000" stroke-width="2" fill="none"/>
<path d="M410.58 251.26V257.34M398.58 251.26H422.58M398.58 257.34H422.58" stroke="#000" stroke-width="2" fill="none"/>
<path d="M477.25 251.15V258.62M465.25 251.15H489.25M465.25 258.62H489.25" stroke="#000" stroke-width="2" fill="none"/>
<path d="M543.92 236.89V244.37M531.92 236.89H555.92M531.92 244.37H555.92" stroke="#000" stroke-width="2" fill="none"/>
<path d="M610.59 237.12V245.07M598.59 237.12H622.59M598.59 245.07H622.59" stroke="#000" stroke-width="2" fill="none"/>
<g fill="none" stroke="#000" stroke-width="2.4"><circle cx="143.9" cy="251.85" r="2.5"/><circle cx="143.9" cy="266.84" r="2.5"/><circle cx="135.9" cy="271.58" r="2.5"/><circle cx="151.9" cy="271.58" r="2.5"/><circle cx="143.9" cy="274.83" r="2.5"/><circle cx="131.9" cy="283.57" r="2.5"/><circle cx="155.9" cy="283.57" r="2.5"/><circle cx="139.9" cy="286.07" r="2.5"/><circle cx="147.9" cy="286.07" r="2.5"/><circle cx="163.9" cy="286.07" r="2.5"/><circle cx="123.9" cy="291.07" r="2.5"/><circle cx="163.9" cy="291.07" r="2.5"/><circle cx="139.9" cy="289.82" r="2.5"/><circle cx="147.9" cy="291.07" r="2.5"/><circle cx="123.9" cy="296.07" r="2.5"/><circle cx="139.9" cy="297.31" r="2.5"/><circle cx="163.9" cy="294.82" r="2.5"/><circle cx="147.9" cy="293.57" r="2.5"/><circle cx="155.9" cy="297.81" r="2.5"/></g>
<g fill="none" stroke="#000" stroke-width="2.4"><circle cx="213.92" cy="232.86" r="2.5"/><circle cx="207.22" cy="236.11" r="2.5"/><circle cx="207.22" cy="242.36" r="2.5"/><circle cx="197.17" cy="243.6" r="2.5"/><circle cx="190.47" cy="246.1" r="2.5"/><circle cx="230.67" cy="246.1" r="2.5"/><circle cx="203.87" cy="247.85" r="2.5"/><circle cx="210.57" cy="247.85" r="2.5"/><circle cx="217.27" cy="247.85" r="2.5"/><circle cx="223.97" cy="247.85" r="2.5"/><circle cx="197.17" cy="249.35" r="2.5"/><circle cx="210.57" cy="252.35" r="2.5"/><circle cx="203.87" cy="254.85" r="2.5"/><circle cx="217.27" cy="254.85" r="2.5"/><circle cx="210.57" cy="258.59" r="2.5"/><circle cx="213.92" cy="263.59" r="2.5"/><circle cx="207.22" cy="265.34" r="2.5"/><circle cx="213.92" cy="268.59" r="2.5"/><circle cx="207.22" cy="270.33" r="2.5"/></g>
<g fill="none" stroke="#000" stroke-width="2.4"><circle cx="273.24" cy="204.38" r="2.5"/><circle cx="281.24" cy="204.38" r="2.5"/><circle cx="265.24" cy="216.13" r="2.5"/><circle cx="273.24" cy="216.13" r="2.5"/><circle cx="281.24" cy="219.87" r="2.5"/><circle cx="289.24" cy="219.87" r="2.5"/><circle cx="257.24" cy="223.12" r="2.5"/><circle cx="265.24" cy="223.62" r="2.5"/><circle cx="297.24" cy="224.87" r="2.5"/><circle cx="273.24" cy="227.37" r="2.5"/><circle cx="281.24" cy="227.37" r="2.5"/><circle cx="289.24" cy="228.62" r="2.5"/><circle cx="265.24" cy="236.11" r="2.5"/><circle cx="281.24" cy="236.11" r="2.5"/><circle cx="297.24" cy="237.36" r="2.5"/><circle cx="257.24" cy="239.86" r="2.5"/><circle cx="273.24" cy="239.86" r="2.5"/><circle cx="289.24" cy="241.11" r="2.5"/></g>
<g fill="none" stroke="#000" stroke-width="2.4"><circle cx="339.16" cy="174.91" r="2.5"/><circle cx="348.66" cy="178.65" r="2.5"/><circle cx="329.66" cy="183.65" r="2.5"/><circle cx="339.16" cy="182.4" r="2.5"/><circle cx="339.16" cy="187.4" r="2.5"/><circle cx="348.66" cy="187.4" r="2.5"/><circle cx="339.16" cy="193.64" r="2.5"/><circle cx="339.16" cy="197.39" r="2.5"/><circle cx="348.66" cy="197.39" r="2.5"/><circle cx="348.66" cy="201.14" r="2.5"/><circle cx="329.66" cy="203.63" r="2.5"/><circle cx="348.66" cy="206.13" r="2.5"/><circle cx="339.16" cy="208.13" r="2.5"/><circle cx="329.66" cy="212.38" r="2.5"/><circle cx="339.16" cy="215.38" r="2.5"/><circle cx="348.66" cy="214.13" r="2.5"/><circle cx="358.16" cy="216.13" r="2.5"/><circle cx="343.91" cy="223.62" r="2.5"/></g>
<g fill="#000"><circle cx="410.58" cy="233.61" r="3.45"/><circle cx="405.83" cy="239.86" r="3.45"/><circle cx="424.83" cy="241.11" r="3.45"/><circle cx="415.33" cy="242.36" r="3.45"/><circle cx="405.83" cy="244.85" r="3.45"/><circle cx="396.33" cy="248.6" r="3.45"/><circle cx="415.33" cy="248.6" r="3.45"/><circle cx="424.83" cy="248.6" r="3.45"/><circle cx="405.83" cy="252.35" r="3.45"/><circle cx="396.33" cy="253.6" r="3.45"/><circle cx="405.83" cy="258.59" r="3.45"/><circle cx="415.33" cy="258.59" r="3.45"/><circle cx="424.83" cy="258.59" r="3.45"/><circle cx="396.33" cy="261.09" r="3.45"/><circle cx="415.33" cy="263.59" r="3.45"/><circle cx="396.33" cy="267.84" r="3.45"/><circle cx="415.33" cy="269.84" r="3.45"/><circle cx="405.83" cy="272.33" r="3.45"/></g>
<g fill="#000"><circle cx="477.25" cy="231.61" r="3.45"/><circle cx="477.25" cy="237.36" r="3.45"/><circle cx="497.25" cy="237.36" r="3.45"/><circle cx="457.25" cy="241.11" r="3.45"/><circle cx="467.25" cy="241.11" r="3.45"/><circle cx="487.25" cy="241.11" r="3.45"/><circle cx="477.25" cy="243.6" r="3.45"/><circle cx="497.25" cy="243.6" r="3.45"/><circle cx="467.25" cy="248.6" r="3.45"/><circle cx="487.25" cy="249.85" r="3.45"/><circle cx="477.25" cy="253.6" r="3.45"/><circle cx="487.25" cy="264.34" r="3.45"/><circle cx="457.25" cy="267.34" r="3.45"/><circle cx="477.25" cy="269.84" r="3.45"/><circle cx="497.25" cy="269.84" r="3.45"/><circle cx="467.25" cy="271.08" r="3.45"/><circle cx="487.25" cy="274.83" r="3.45"/><circle cx="467.25" cy="278.58" r="3.45"/></g>
<g fill="#000"><circle cx="543.92" cy="209.13" r="3.45"/><circle cx="543.92" cy="214.13" r="3.45"/><circle cx="538.92" cy="221.87" r="3.45"/><circle cx="548.92" cy="221.87" r="3.45"/><circle cx="563.92" cy="229.37" r="3.45"/><circle cx="543.92" cy="230.36" r="3.45"/><circle cx="533.92" cy="231.11" r="3.45"/><circle cx="553.92" cy="234.86" r="3.45"/><circle cx="533.92" cy="237.36" r="3.45"/><circle cx="553.92" cy="242.36" r="3.45"/><circle cx="533.92" cy="246.1" r="3.45"/><circle cx="543.92" cy="248.6" r="3.45"/><circle cx="533.92" cy="256.1" r="3.45"/><circle cx="563.92" cy="256.1" r="3.45"/><circle cx="543.92" cy="257.34" r="3.45"/><circle cx="553.92" cy="256.84" r="3.45"/><circle cx="523.92" cy="259.84" r="3.45"/><circle cx="563.92" cy="261.59" r="3.45"/></g>
<g fill="#000"><circle cx="598.59" cy="213.63" r="3.45"/><circle cx="606.59" cy="215.38" r="3.45"/><circle cx="614.59" cy="215.38" r="3.45"/><circle cx="602.09" cy="228.12" r="3.45"/><circle cx="610.59" cy="228.12" r="3.45"/><circle cx="619.09" cy="228.12" r="3.45"/><circle cx="610.59" cy="236.11" r="3.45"/><circle cx="590.59" cy="242.36" r="3.45"/><circle cx="630.59" cy="242.36" r="3.45"/><circle cx="598.59" cy="245.35" r="3.45"/><circle cx="615.09" cy="243.6" r="3.45"/><circle cx="623.59" cy="243.6" r="3.45"/><circle cx="607.59" cy="246.1" r="3.45"/><circle cx="606.59" cy="251.1" r="3.45"/><circle cx="606.59" cy="256.1" r="3.45"/><circle cx="614.59" cy="256.1" r="3.45"/><circle cx="610.59" cy="262.34" r="3.45"/><circle cx="610.59" cy="267.34" r="3.45"/></g>
<path d="M344.7 98H613" stroke="#a6a6a6" stroke-width="3.4" fill="none"/>
<text x="461.15 474.65 488.15 501.65" y="99.5" class="st g" fill="#a6a6a6">****</text>
<path d="M275.8 123.2H544.3" stroke="#a6a6a6" stroke-width="3.4" fill="none"/>
<text x="413.4" y="124.7" class="st g" fill="#a6a6a6">*</text>
<path d="M147.2 144.4H415.7" stroke="#a6a6a6" stroke-width="3.4" fill="none"/>
<text x="264.05 277.55 291.05 304.55" y="145.9" class="st g" fill="#a6a6a6">****</text>
<path d="M147.2 162.9H339.3" stroke="#000" stroke-width="3.4" fill="none"/>
<text x="223.55 237.05 250.55 264.05" y="164.4" class="st">****</text>
<path d="M147.2 191.9H275.1" stroke="#000" stroke-width="3.4" fill="none"/>
<text x="189.15 202.65 216.15 229.65" y="193.4" class="st">****</text>
<path d="M142.9 220.1H208.1" stroke="#000" stroke-width="3.4" fill="none"/>
<text x="154.85 168.35 181.85 195.35" y="221.6" class="st">****</text>
</g>
<text x="16.4" y="53.3" font-size="36" text-anchor="start" font-weight="bold">A</text>
<text x="29.5" y="1303.2" font-size="36.4" font-weight="bold" text-anchor="middle" textLength="24.2" lengthAdjust="spacingAndGlyphs">B</text>
<defs>
<filter id="b1" filterUnits="userSpaceOnUse" x="100" y="1340" width="760" height="346"><feGaussianBlur stdDeviation="1.2"/></filter>
<filter id="b2" filterUnits="userSpaceOnUse" x="100" y="1340" width="760" height="346"><feGaussianBlur stdDeviation="1.8"/></filter>
<filter id="b3" filterUnits="userSpaceOnUse" x="100" y="1340" width="760" height="346"><feGaussianBlur stdDeviation="3"/></filter>
<filter id="b5" filterUnits="userSpaceOnUse" x="100" y="1340" width="760" height="346"><feGaussianBlur stdDeviation="6"/></filter>
<filter id="b9" filterUnits="userSpaceOnUse" x="100" y="1340" width="760" height="346"><feGaussianBlur stdDeviation="10"/></filter>
<linearGradient id="g1" x1="0" x2="1" y1="0" y2="0"><stop offset="0" stop-color="#626262"/><stop offset="0.05" stop-color="#7c7c7c"/><stop offset="0.12" stop-color="#888"/><stop offset="0.5" stop-color="#8a8a8a"/><stop offset="1" stop-color="#8d8d8d"/></linearGradient>
<linearGradient id="g1v" x1="0" x2="0" y1="0" y2="1"><stop offset="0" stop-color="#000" stop-opacity="0.22"/><stop offset="0.12" stop-color="#000" stop-opacity="0"/><stop offset="0.8" stop-color="#000" stop-opacity="0"/><stop offset="1" stop-color="#000" stop-opacity="0.12"/></linearGradient>
<linearGradient id="g2" x1="0" x2="1" y1="0" y2="0"><stop offset="0" stop-color="#c9c9c9"/><stop offset="0.06" stop-color="#dadada"/><stop offset="0.4" stop-color="#dfdfdf"/><stop offset="1" stop-color="#e2e2e2"/></linearGradient>
<linearGradient id="g3" x1="0" x2="1" y1="0" y2="0"><stop offset="0" stop-color="#c4c4c4"/><stop offset="0.3" stop-color="#cdcdcd"/><stop offset="1" stop-color="#d0d0d0"/></linearGradient>
<linearGradient id="sm" x1="0" x2="0" y1="0" y2="1"><stop offset="0" stop-color="#9c9c9c" stop-opacity="0.85"/><stop offset="0.55" stop-color="#b0b0b0" stop-opacity="0.55"/><stop offset="1" stop-color="#c8c8c8" stop-opacity="0"/></linearGradient>
<clipPath id="c1"><rect x="135.5" y="1368.7" width="689.5" height="94.9"/></clipPath>
<clipPath id="c2"><rect x="135.5" y="1471.7" width="689.5" height="98.9"/></clipPath>
<clipPath id="c3"><rect x="135.5" y="1579.6" width="689.5" height="83.7"/></clipPath>
</defs>
<g clip-path="url(#c1)">
<rect x="135.5" y="1368.7" width="689.5" height="94.9" fill="url(#g1)"/>
<rect x="135.5" y="1368.7" width="689.5" height="94.9" fill="url(#g1v)"/>
<ellipse cx="144" cy="1427" rx="17" ry="10" fill="#1c1c1c" opacity="0.95" filter="url(#b5)"/>
<ellipse cx="200" cy="1420" rx="35" ry="40" fill="#9a9a9a" opacity="0.5" filter="url(#b9)"/>
<path d="M234 1416.5L307 1421.2" stroke="#262626" stroke-width="5.5" stroke-linecap="round" fill="none" filter="url(#b2)" opacity="0.9"/>
<path d="M324 1422.5L390 1423.8" stroke="#2b2b2b" stroke-width="5.5" stroke-linecap="round" fill="none" filter="url(#b2)" opacity="0.85"/>
<path d="M405 1423.5L470 1423" stroke="#3a3a3a" stroke-width="5" stroke-linecap="round" fill="none" filter="url(#b2)" opacity="0.55"/>
<path d="M487 1425.2L553 1425.6" stroke="#3a3a3a" stroke-width="5" stroke-linecap="round" fill="none" filter="url(#b2)" opacity="0.55"/>
<path d="M573 1425.6L641 1425.2" stroke="#303030" stroke-width="5.5" stroke-linecap="round" fill="none" filter="url(#b2)" opacity="0.75"/>
<path d="M660 1426L721 1425" stroke="#050505" stroke-width="9.5" stroke-linecap="round" fill="none" filter="url(#b2)"/>
<path d="M743 1423.5Q775 1423.5 813 1418.8" stroke="#1c1c1c" stroke-width="5.5" stroke-linecap="round" fill="none" filter="url(#b2)" opacity="0.92"/>
</g>
<g clip-path="url(#c2)">
<rect x="135.5" y="1471.7" width="689.5" height="98.9" fill="url(#g2)"/>
<ellipse cx="150" cy="1490" rx="22" ry="30" fill="#bcbcbc" opacity="0.8" filter="url(#b9)"/>
<ellipse cx="150" cy="1557" rx="18" ry="8" fill="#b5b5b5" opacity="0.8" filter="url(#b5)"/>
<ellipse cx="820" cy="1482" rx="8" ry="10" fill="#aaa" opacity="0.8" filter="url(#b5)"/>
<ellipse cx="820" cy="1566" rx="8" ry="8" fill="#bbb" opacity="0.8" filter="url(#b5)"/>
<rect x="247" y="1515" width="66" height="46" fill="url(#sm)" filter="url(#b3)"/>
<rect x="330" y="1522" width="66" height="46" fill="url(#sm)" filter="url(#b3)"/>
<rect x="414" y="1522" width="66" height="46" fill="url(#sm)" filter="url(#b3)"/>
<rect x="496" y="1523" width="67" height="46" fill="url(#sm)" filter="url(#b3)"/>
<rect x="584" y="1523" width="64" height="46" fill="url(#sm)" filter="url(#b3)"/>
<rect x="665" y="1522" width="66" height="46" fill="url(#sm)" filter="url(#b3)"/>
<rect x="750" y="1520" width="63" height="46" fill="url(#sm)" filter="url(#b3)"/>
<path d="M244 1506.55L315 1514.85L317 1517.6L315 1520.35L244 1517.05L242 1511.8Z" fill="#0c0c0c" stroke="#0c0c0c" stroke-width="2" stroke-linejoin="round" filter="url(#b2)"/>
<path d="M327 1517.45L398 1519.6L400 1523.6L398 1527.6L327 1520.95L325 1519.2Z" fill="#202020" stroke="#202020" stroke-width="2" stroke-linejoin="round" filter="url(#b2)" opacity="0.9"/>
<path d="M412 1523Q445 1521 481 1522.8" stroke="#0c0c0c" stroke-width="9" stroke-linecap="round" fill="none" filter="url(#b2)"/>
<path d="M494 1523.5Q530 1522 563 1524" stroke="#0a0a0a" stroke-width="9.5" stroke-linecap="round" fill="none" filter="url(#b2)"/>
<path d="M582 1524.5Q615 1522.5 649 1524" stroke="#0a0a0a" stroke-width="9.5" stroke-linecap="round" fill="none" filter="url(#b2)"/>
<path d="M664 1523.5Q698 1524.5 732 1523" stroke="#0a0a0a" stroke-width="10" stroke-linecap="round" fill="none" filter="url(#b2)"/>
<path d="M748 1522.5Q790 1525 824 1514" stroke="#0a0a0a" stroke-width="9.5" stroke-linecap="round" fill="none" filter="url(#b2)"/>
</g>
<g clip-path="url(#c3)">
<rect x="135.5" y="1579.6" width="689.5" height="83.7" fill="url(#g3)"/>
<ellipse cx="150" cy="1607" rx="18" ry="12" fill="#a8a8a8" opacity="0.8" filter="url(#b5)"/>
<ellipse cx="212" cy="1645" rx="30" ry="8" fill="#aeaeae" opacity="0.7" filter="url(#b3)"/>
<path d="M183 1607.5L235 1616" stroke="#000" stroke-width="23" stroke-linecap="round" fill="none" filter="url(#b2)"/>
<path d="M259 1621L316 1621.5" stroke="#2b2b2b" stroke-width="12" stroke-linecap="round" fill="none" filter="url(#b2)" opacity="0.9"/>
<path d="M337 1624L399 1626" stroke="#262626" stroke-width="10.5" stroke-linecap="round" fill="none" filter="url(#b2)" opacity="0.9"/>
<path d="M422 1627L480 1626" stroke="#0e0e0e" stroke-width="11.5" stroke-linecap="round" fill="none" filter="url(#b2)"/>
<path d="M501 1625.5L565 1621.5" stroke="#151515" stroke-width="11.5" stroke-linecap="round" fill="none" filter="url(#b2)" opacity="0.95"/>
<path d="M589 1624L649 1620" stroke="#151515" stroke-width="12" stroke-linecap="round" fill="none" filter="url(#b2)" opacity="0.95"/>
<path d="M669 1621.5L731 1618.5" stroke="#181818" stroke-width="11.5" stroke-linecap="round" fill="none" filter="url(#b2)" opacity="0.95"/>
<path d="M754 1620.5Q800 1622 819 1608.5" stroke="#181818" stroke-width="11.5" stroke-linecap="round" fill="none" filter="url(#b2)" opacity="0.95"/>
</g>
<text x="113.95" y="1319.3" font-size="30.2" text-anchor="middle" textLength="87.5" lengthAdjust="spacingAndGlyphs">MPC1:</text>
<text x="200.95" y="1319.3" font-size="30.2" text-anchor="middle" textLength="10.1" lengthAdjust="spacingAndGlyphs">-</text>
<text x="273.5" y="1319.3" font-size="30.2" text-anchor="middle" textLength="45.8" lengthAdjust="spacingAndGlyphs">WT</text>
<text x="356.9" y="1319.3" font-size="30.2" text-anchor="middle" textLength="45.8" lengthAdjust="spacingAndGlyphs">WT</text>
<text x="438.05" y="1319.3" font-size="30.2" text-anchor="middle" textLength="74.1" lengthAdjust="spacingAndGlyphs">H84A</text>
<text x="519.25" y="1319.3" font-size="30.2" text-anchor="middle" textLength="46.1" lengthAdjust="spacingAndGlyphs">WT</text>
<text x="610.15" y="1319.3" font-size="30.2" text-anchor="middle" textLength="45.7" lengthAdjust="spacingAndGlyphs">WT</text>
<text x="689.35" y="1319.3" font-size="30.2" text-anchor="middle" textLength="68.5" lengthAdjust="spacingAndGlyphs">F66A</text>
<text x="781.9" y="1319.3" font-size="30.2" text-anchor="middle" textLength="74.8" lengthAdjust="spacingAndGlyphs">N33A</text>
<text x="113.95" y="1358.4" font-size="30.2" text-anchor="middle" textLength="87.5" lengthAdjust="spacingAndGlyphs">MPC2:</text>
<text x="200.95" y="1358.4" font-size="30.2" text-anchor="middle" textLength="10.1" lengthAdjust="spacingAndGlyphs">-</text>
<text x="273.5" y="1358.4" font-size="30.2" text-anchor="middle" textLength="45.8" lengthAdjust="spacingAndGlyphs">WT</text>
<text x="355.9" y="1358.4" font-size="30.2" text-anchor="middle" textLength="90.2" lengthAdjust="spacingAndGlyphs">N100A</text>
<text x="439.2" y="1358.4" font-size="30.2" text-anchor="middle" textLength="46" lengthAdjust="spacingAndGlyphs">WT</text>
<text x="518.1" y="1358.4" font-size="30.2" text-anchor="middle" textLength="81.8" lengthAdjust="spacingAndGlyphs">W82A</text>
<text x="608.45" y="1358.4" font-size="30.2" text-anchor="middle" textLength="70.1" lengthAdjust="spacingAndGlyphs">K49A</text>
<text x="689.5" y="1358.4" font-size="30.2" text-anchor="middle" textLength="45.8" lengthAdjust="spacingAndGlyphs">WT</text>
<text x="779.6" y="1358.4" font-size="30.2" text-anchor="middle" textLength="45.8" lengthAdjust="spacingAndGlyphs">WT</text>
<text x="1049.75" y="1423" font-size="43.8" text-anchor="middle" textLength="432.5" lengthAdjust="spacingAndGlyphs" style="stroke-width:0.9px">Anti-mCherry (MPC1)</text>
<text x="944.25" y="1536.6" font-size="43.8" text-anchor="middle" textLength="217.5" lengthAdjust="spacingAndGlyphs" style="stroke-width:0.9px">Anti-MPC2</text>
<text x="958.25" y="1632" font-size="43.8" text-anchor="middle" textLength="245.5" lengthAdjust="spacingAndGlyphs" style="stroke-width:0.9px">Anti-Tubulin</text>
</svg>
</body></html>
